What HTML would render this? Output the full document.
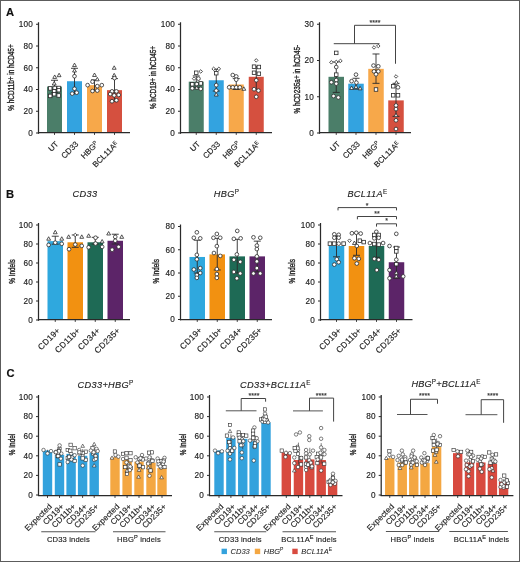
<!DOCTYPE html><html><head><meta charset="utf-8"><style>html,body{margin:0;padding:0;background:#fff;}svg{display:block;filter:blur(0.35px);}</style></head><body>
<svg width="520" height="562" viewBox="0 0 520 562" font-family='"Liberation Sans", sans-serif'>
<rect x="0" y="0" width="520" height="562" fill="#fff"/>
<text x="6.00" y="15.80" font-size="11.2" text-anchor="start" font-weight="bold" fill="#111" stroke="#111" stroke-width="0.15" >A</text>
<text x="6.00" y="197.80" font-size="11.2" text-anchor="start" font-weight="bold" fill="#111" stroke="#111" stroke-width="0.15" >B</text>
<text x="6.50" y="377.30" font-size="11.2" text-anchor="start" font-weight="bold" fill="#111" stroke="#111" stroke-width="0.15" >C</text>
<rect x="47.00" y="86.56" width="15.00" height="46.44" fill="#4b7e69"/>
<rect x="67.00" y="81.23" width="15.00" height="51.77" fill="#33a3e0"/>
<rect x="87.00" y="85.15" width="15.00" height="47.85" fill="#f7a84a"/>
<rect x="107.00" y="90.15" width="15.00" height="42.85" fill="#d5503f"/>
<line x1="54.50" y1="80.26" x2="54.50" y2="92.76" stroke="#2a2a2a" stroke-width="0.9"/>
<line x1="51.00" y1="80.26" x2="58.00" y2="80.26" stroke="#2a2a2a" stroke-width="0.9"/>
<line x1="51.00" y1="92.76" x2="58.00" y2="92.76" stroke="#2a2a2a" stroke-width="0.9"/>
<line x1="74.50" y1="68.29" x2="74.50" y2="93.85" stroke="#2a2a2a" stroke-width="0.9"/>
<line x1="71.00" y1="68.29" x2="78.00" y2="68.29" stroke="#2a2a2a" stroke-width="0.9"/>
<line x1="71.00" y1="93.85" x2="78.00" y2="93.85" stroke="#2a2a2a" stroke-width="0.9"/>
<line x1="94.50" y1="79.93" x2="94.50" y2="90.59" stroke="#2a2a2a" stroke-width="0.9"/>
<line x1="91.00" y1="79.93" x2="98.00" y2="79.93" stroke="#2a2a2a" stroke-width="0.9"/>
<line x1="91.00" y1="90.59" x2="98.00" y2="90.59" stroke="#2a2a2a" stroke-width="0.9"/>
<line x1="114.50" y1="78.62" x2="114.50" y2="101.46" stroke="#2a2a2a" stroke-width="0.9"/>
<line x1="111.00" y1="78.62" x2="118.00" y2="78.62" stroke="#2a2a2a" stroke-width="0.9"/>
<line x1="111.00" y1="101.46" x2="118.00" y2="101.46" stroke="#2a2a2a" stroke-width="0.9"/>
<polygon points="54.70,74.96 56.63,78.42 52.77,78.42" fill="#fff" stroke="#2a2a2a" stroke-width="0.8"/>
<polygon points="59.10,73.22 61.03,76.68 57.17,76.68" fill="#fff" stroke="#2a2a2a" stroke-width="0.8"/>
<polygon points="54.20,81.48 56.13,84.94 52.27,84.94" fill="#fff" stroke="#2a2a2a" stroke-width="0.8"/>
<rect x="48.44" y="86.66" width="3.52" height="3.52" fill="#fff" stroke="#2a2a2a" stroke-width="0.8"/>
<rect x="52.94" y="86.22" width="3.52" height="3.52" fill="#fff" stroke="#2a2a2a" stroke-width="0.8"/>
<rect x="56.94" y="86.22" width="3.52" height="3.52" fill="#fff" stroke="#2a2a2a" stroke-width="0.8"/>
<rect x="52.44" y="89.48" width="3.52" height="3.52" fill="#fff" stroke="#2a2a2a" stroke-width="0.8"/>
<rect x="56.94" y="88.40" width="3.52" height="3.52" fill="#fff" stroke="#2a2a2a" stroke-width="0.8"/>
<rect x="52.44" y="92.42" width="3.52" height="3.52" fill="#fff" stroke="#2a2a2a" stroke-width="0.8"/>
<rect x="56.94" y="93.72" width="3.52" height="3.52" fill="#fff" stroke="#2a2a2a" stroke-width="0.8"/>
<rect x="48.44" y="94.16" width="3.52" height="3.52" fill="#fff" stroke="#2a2a2a" stroke-width="0.8"/>
<polygon points="74.50,63.11 76.43,66.56 72.57,66.56" fill="#fff" stroke="#2a2a2a" stroke-width="0.8"/>
<polygon points="74.50,68.54 76.43,72.00 72.57,72.00" fill="#fff" stroke="#2a2a2a" stroke-width="0.8"/>
<circle cx="74.50" cy="76.23" r="1.85" fill="#fff" stroke="#2a2a2a" stroke-width="0.8"/>
<circle cx="74.50" cy="88.74" r="1.85" fill="#fff" stroke="#2a2a2a" stroke-width="0.8"/>
<circle cx="72.20" cy="93.63" r="1.85" fill="#fff" stroke="#2a2a2a" stroke-width="0.8"/>
<circle cx="76.70" cy="92.65" r="1.85" fill="#fff" stroke="#2a2a2a" stroke-width="0.8"/>
<polygon points="94.50,73.00 96.43,76.46 92.57,76.46" fill="#fff" stroke="#2a2a2a" stroke-width="0.8"/>
<polygon points="97.30,77.35 99.23,80.81 95.37,80.81" fill="#fff" stroke="#2a2a2a" stroke-width="0.8"/>
<circle cx="92.50" cy="81.67" r="1.85" fill="#fff" stroke="#2a2a2a" stroke-width="0.8"/>
<circle cx="87.60" cy="85.15" r="1.85" fill="#fff" stroke="#2a2a2a" stroke-width="0.8"/>
<circle cx="97.30" cy="86.13" r="1.85" fill="#fff" stroke="#2a2a2a" stroke-width="0.8"/>
<circle cx="101.80" cy="85.15" r="1.85" fill="#fff" stroke="#2a2a2a" stroke-width="0.8"/>
<circle cx="92.50" cy="91.02" r="1.85" fill="#fff" stroke="#2a2a2a" stroke-width="0.8"/>
<circle cx="97.30" cy="90.59" r="1.85" fill="#fff" stroke="#2a2a2a" stroke-width="0.8"/>
<polygon points="114.20,65.82 116.13,69.28 112.27,69.28" fill="#fff" stroke="#2a2a2a" stroke-width="0.8"/>
<polygon points="114.20,73.33 116.13,76.79 112.27,76.79" fill="#fff" stroke="#2a2a2a" stroke-width="0.8"/>
<circle cx="114.50" cy="78.08" r="1.85" fill="#fff" stroke="#2a2a2a" stroke-width="0.8"/>
<circle cx="112.00" cy="91.35" r="1.85" fill="#fff" stroke="#2a2a2a" stroke-width="0.8"/>
<circle cx="116.40" cy="91.35" r="1.85" fill="#fff" stroke="#2a2a2a" stroke-width="0.8"/>
<circle cx="110.20" cy="94.07" r="1.85" fill="#fff" stroke="#2a2a2a" stroke-width="0.8"/>
<circle cx="114.20" cy="95.37" r="1.85" fill="#fff" stroke="#2a2a2a" stroke-width="0.8"/>
<circle cx="118.70" cy="94.94" r="1.85" fill="#fff" stroke="#2a2a2a" stroke-width="0.8"/>
<circle cx="112.00" cy="101.25" r="1.85" fill="#fff" stroke="#2a2a2a" stroke-width="0.8"/>
<circle cx="116.40" cy="100.27" r="1.85" fill="#fff" stroke="#2a2a2a" stroke-width="0.8"/>
<line x1="38.50" y1="22.25" x2="38.50" y2="133.80" stroke="#2a2a2a" stroke-width="1.25"/>
<line x1="36.00" y1="133.00" x2="38.50" y2="133.00" stroke="#2a2a2a" stroke-width="1.0"/>
<text x="33.00" y="135.80" font-size="8.2" text-anchor="end" font-weight="normal" fill="#222" stroke="#222" stroke-width="0.15" letter-spacing="0.2">0</text>
<line x1="36.00" y1="111.25" x2="38.50" y2="111.25" stroke="#2a2a2a" stroke-width="1.0"/>
<text x="33.00" y="114.05" font-size="8.2" text-anchor="end" font-weight="normal" fill="#222" stroke="#222" stroke-width="0.15" letter-spacing="0.2">20</text>
<line x1="36.00" y1="89.50" x2="38.50" y2="89.50" stroke="#2a2a2a" stroke-width="1.0"/>
<text x="33.00" y="92.30" font-size="8.2" text-anchor="end" font-weight="normal" fill="#222" stroke="#222" stroke-width="0.15" letter-spacing="0.2">40</text>
<line x1="36.00" y1="67.75" x2="38.50" y2="67.75" stroke="#2a2a2a" stroke-width="1.0"/>
<text x="33.00" y="70.55" font-size="8.2" text-anchor="end" font-weight="normal" fill="#222" stroke="#222" stroke-width="0.15" letter-spacing="0.2">60</text>
<line x1="36.00" y1="46.00" x2="38.50" y2="46.00" stroke="#2a2a2a" stroke-width="1.0"/>
<text x="33.00" y="48.80" font-size="8.2" text-anchor="end" font-weight="normal" fill="#222" stroke="#222" stroke-width="0.15" letter-spacing="0.2">80</text>
<line x1="36.00" y1="24.25" x2="38.50" y2="24.25" stroke="#2a2a2a" stroke-width="1.0"/>
<text x="33.00" y="27.05" font-size="8.2" text-anchor="end" font-weight="normal" fill="#222" stroke="#222" stroke-width="0.15" letter-spacing="0.2">100</text>
<line x1="37.90" y1="132.50" x2="130.00" y2="132.50" stroke="#2a2a2a" stroke-width="1.25"/>
<line x1="54.50" y1="132.50" x2="54.50" y2="134.90" stroke="#2a2a2a" stroke-width="0.9"/>
<line x1="74.50" y1="132.50" x2="74.50" y2="134.90" stroke="#2a2a2a" stroke-width="0.9"/>
<line x1="94.50" y1="132.50" x2="94.50" y2="134.90" stroke="#2a2a2a" stroke-width="0.9"/>
<line x1="114.50" y1="132.50" x2="114.50" y2="134.90" stroke="#2a2a2a" stroke-width="0.9"/>
<text transform="translate(59.00,144.50) rotate(-45)" font-size="8" text-anchor="end" fill="#222" stroke="#222" stroke-width="0.15" letter-spacing="0">UT</text>
<text transform="translate(79.00,144.50) rotate(-45)" font-size="8" text-anchor="end" fill="#222" stroke="#222" stroke-width="0.15" letter-spacing="0">CD33</text>
<text transform="translate(99.00,144.50) rotate(-45)" font-size="8" text-anchor="end" fill="#222" stroke="#222" stroke-width="0.15" letter-spacing="0">HBG<tspan font-size="5.5" dy="-2.2">P</tspan></text>
<text transform="translate(119.00,144.50) rotate(-45)" font-size="8" text-anchor="end" fill="#222" stroke="#222" stroke-width="0.15" letter-spacing="0">BCL11A<tspan font-size="5.5" dy="-2.2">E</tspan></text>
<text transform="translate(11.50,77.50) rotate(-90) scale(0.78,1)" font-size="8.2" text-anchor="middle" fill="#222" stroke="#222" stroke-width="0.35" dominant-baseline="central">% hCD11b+ in hCD45+</text>
<rect x="188.75" y="81.67" width="15.00" height="51.33" fill="#4b7e69"/>
<rect x="208.75" y="80.26" width="15.00" height="52.74" fill="#33a3e0"/>
<rect x="228.75" y="84.50" width="15.00" height="48.50" fill="#f7a84a"/>
<rect x="248.75" y="76.78" width="15.00" height="56.22" fill="#d5503f"/>
<line x1="196.25" y1="75.91" x2="196.25" y2="87.33" stroke="#2a2a2a" stroke-width="0.9"/>
<line x1="192.75" y1="75.91" x2="199.75" y2="75.91" stroke="#2a2a2a" stroke-width="0.9"/>
<line x1="192.75" y1="87.33" x2="199.75" y2="87.33" stroke="#2a2a2a" stroke-width="0.9"/>
<line x1="216.25" y1="69.16" x2="216.25" y2="91.02" stroke="#2a2a2a" stroke-width="0.9"/>
<line x1="212.75" y1="69.16" x2="219.75" y2="69.16" stroke="#2a2a2a" stroke-width="0.9"/>
<line x1="212.75" y1="91.02" x2="219.75" y2="91.02" stroke="#2a2a2a" stroke-width="0.9"/>
<line x1="236.25" y1="78.62" x2="236.25" y2="89.50" stroke="#2a2a2a" stroke-width="0.9"/>
<line x1="232.75" y1="78.62" x2="239.75" y2="78.62" stroke="#2a2a2a" stroke-width="0.9"/>
<line x1="232.75" y1="89.50" x2="239.75" y2="89.50" stroke="#2a2a2a" stroke-width="0.9"/>
<line x1="256.25" y1="66.66" x2="256.25" y2="89.50" stroke="#2a2a2a" stroke-width="0.9"/>
<line x1="252.75" y1="66.66" x2="259.75" y2="66.66" stroke="#2a2a2a" stroke-width="0.9"/>
<line x1="252.75" y1="89.50" x2="259.75" y2="89.50" stroke="#2a2a2a" stroke-width="0.9"/>
<rect x="194.49" y="71.00" width="3.52" height="3.52" fill="#fff" stroke="#2a2a2a" stroke-width="0.8"/>
<polygon points="200.75,69.69 202.51,71.45 200.75,73.20 198.99,71.45" fill="#fff" stroke="#2a2a2a" stroke-width="0.8"/>
<polygon points="194.05,76.87 195.81,78.62 194.05,80.38 192.29,78.62" fill="#fff" stroke="#2a2a2a" stroke-width="0.8"/>
<circle cx="198.45" cy="78.62" r="1.85" fill="#fff" stroke="#2a2a2a" stroke-width="0.8"/>
<rect x="190.49" y="82.52" width="3.52" height="3.52" fill="#fff" stroke="#2a2a2a" stroke-width="0.8"/>
<circle cx="196.75" cy="84.06" r="1.85" fill="#fff" stroke="#2a2a2a" stroke-width="0.8"/>
<rect x="198.99" y="81.65" width="3.52" height="3.52" fill="#fff" stroke="#2a2a2a" stroke-width="0.8"/>
<circle cx="192.25" cy="88.30" r="1.85" fill="#fff" stroke="#2a2a2a" stroke-width="0.8"/>
<polygon points="196.75,85.83 198.68,89.29 194.82,89.29" fill="#fff" stroke="#2a2a2a" stroke-width="0.8"/>
<circle cx="200.75" cy="88.85" r="1.85" fill="#fff" stroke="#2a2a2a" stroke-width="0.8"/>
<polygon points="213.65,67.08 215.41,68.84 213.65,70.59 211.89,68.84" fill="#fff" stroke="#2a2a2a" stroke-width="0.8"/>
<polygon points="218.85,67.08 220.61,68.84 218.85,70.59 217.09,68.84" fill="#fff" stroke="#2a2a2a" stroke-width="0.8"/>
<rect x="214.49" y="71.43" width="3.52" height="3.52" fill="#fff" stroke="#2a2a2a" stroke-width="0.8"/>
<circle cx="216.25" cy="85.15" r="1.85" fill="#fff" stroke="#2a2a2a" stroke-width="0.8"/>
<circle cx="216.25" cy="90.59" r="1.85" fill="#fff" stroke="#2a2a2a" stroke-width="0.8"/>
<polygon points="216.25,92.58 218.18,96.04 214.32,96.04" fill="#fff" stroke="#2a2a2a" stroke-width="0.8"/>
<circle cx="232.75" cy="75.04" r="1.85" fill="#fff" stroke="#2a2a2a" stroke-width="0.8"/>
<circle cx="236.25" cy="76.45" r="1.85" fill="#fff" stroke="#2a2a2a" stroke-width="0.8"/>
<circle cx="236.25" cy="79.71" r="1.85" fill="#fff" stroke="#2a2a2a" stroke-width="0.8"/>
<circle cx="229.15" cy="87.33" r="1.85" fill="#fff" stroke="#2a2a2a" stroke-width="0.8"/>
<circle cx="232.75" cy="87.33" r="1.85" fill="#fff" stroke="#2a2a2a" stroke-width="0.8"/>
<circle cx="236.25" cy="87.33" r="1.85" fill="#fff" stroke="#2a2a2a" stroke-width="0.8"/>
<circle cx="239.85" cy="87.33" r="1.85" fill="#fff" stroke="#2a2a2a" stroke-width="0.8"/>
<polygon points="243.85,86.81 245.78,90.27 241.92,90.27" fill="#fff" stroke="#2a2a2a" stroke-width="0.8"/>
<polygon points="256.25,58.60 258.01,60.36 256.25,62.11 254.49,60.36" fill="#fff" stroke="#2a2a2a" stroke-width="0.8"/>
<rect x="252.29" y="64.91" width="3.52" height="3.52" fill="#fff" stroke="#2a2a2a" stroke-width="0.8"/>
<rect x="257.09" y="65.23" width="3.52" height="3.52" fill="#fff" stroke="#2a2a2a" stroke-width="0.8"/>
<rect x="252.29" y="71.00" width="3.52" height="3.52" fill="#fff" stroke="#2a2a2a" stroke-width="0.8"/>
<rect x="257.09" y="71.97" width="3.52" height="3.52" fill="#fff" stroke="#2a2a2a" stroke-width="0.8"/>
<circle cx="256.25" cy="80.26" r="1.85" fill="#fff" stroke="#2a2a2a" stroke-width="0.8"/>
<circle cx="254.05" cy="89.17" r="1.85" fill="#fff" stroke="#2a2a2a" stroke-width="0.8"/>
<circle cx="258.45" cy="90.59" r="1.85" fill="#fff" stroke="#2a2a2a" stroke-width="0.8"/>
<circle cx="256.25" cy="96.79" r="1.85" fill="#fff" stroke="#2a2a2a" stroke-width="0.8"/>
<line x1="180.50" y1="22.25" x2="180.50" y2="133.80" stroke="#2a2a2a" stroke-width="1.25"/>
<line x1="178.00" y1="133.00" x2="180.50" y2="133.00" stroke="#2a2a2a" stroke-width="1.0"/>
<text x="175.00" y="135.80" font-size="8.2" text-anchor="end" font-weight="normal" fill="#222" stroke="#222" stroke-width="0.15" letter-spacing="0.2">0</text>
<line x1="178.00" y1="111.25" x2="180.50" y2="111.25" stroke="#2a2a2a" stroke-width="1.0"/>
<text x="175.00" y="114.05" font-size="8.2" text-anchor="end" font-weight="normal" fill="#222" stroke="#222" stroke-width="0.15" letter-spacing="0.2">20</text>
<line x1="178.00" y1="89.50" x2="180.50" y2="89.50" stroke="#2a2a2a" stroke-width="1.0"/>
<text x="175.00" y="92.30" font-size="8.2" text-anchor="end" font-weight="normal" fill="#222" stroke="#222" stroke-width="0.15" letter-spacing="0.2">40</text>
<line x1="178.00" y1="67.75" x2="180.50" y2="67.75" stroke="#2a2a2a" stroke-width="1.0"/>
<text x="175.00" y="70.55" font-size="8.2" text-anchor="end" font-weight="normal" fill="#222" stroke="#222" stroke-width="0.15" letter-spacing="0.2">60</text>
<line x1="178.00" y1="46.00" x2="180.50" y2="46.00" stroke="#2a2a2a" stroke-width="1.0"/>
<text x="175.00" y="48.80" font-size="8.2" text-anchor="end" font-weight="normal" fill="#222" stroke="#222" stroke-width="0.15" letter-spacing="0.2">80</text>
<line x1="178.00" y1="24.25" x2="180.50" y2="24.25" stroke="#2a2a2a" stroke-width="1.0"/>
<text x="175.00" y="27.05" font-size="8.2" text-anchor="end" font-weight="normal" fill="#222" stroke="#222" stroke-width="0.15" letter-spacing="0.2">100</text>
<line x1="179.90" y1="132.50" x2="272.00" y2="132.50" stroke="#2a2a2a" stroke-width="1.25"/>
<line x1="196.25" y1="132.50" x2="196.25" y2="134.90" stroke="#2a2a2a" stroke-width="0.9"/>
<line x1="216.25" y1="132.50" x2="216.25" y2="134.90" stroke="#2a2a2a" stroke-width="0.9"/>
<line x1="236.25" y1="132.50" x2="236.25" y2="134.90" stroke="#2a2a2a" stroke-width="0.9"/>
<line x1="256.25" y1="132.50" x2="256.25" y2="134.90" stroke="#2a2a2a" stroke-width="0.9"/>
<text transform="translate(200.75,144.50) rotate(-45)" font-size="8" text-anchor="end" fill="#222" stroke="#222" stroke-width="0.15" letter-spacing="0">UT</text>
<text transform="translate(220.75,144.50) rotate(-45)" font-size="8" text-anchor="end" fill="#222" stroke="#222" stroke-width="0.15" letter-spacing="0">CD33</text>
<text transform="translate(240.75,144.50) rotate(-45)" font-size="8" text-anchor="end" fill="#222" stroke="#222" stroke-width="0.15" letter-spacing="0">HBG<tspan font-size="5.5" dy="-2.2">P</tspan></text>
<text transform="translate(260.75,144.50) rotate(-45)" font-size="8" text-anchor="end" fill="#222" stroke="#222" stroke-width="0.15" letter-spacing="0">BCL11A<tspan font-size="5.5" dy="-2.2">E</tspan></text>
<text transform="translate(153.00,77.50) rotate(-90) scale(0.78,1)" font-size="8.2" text-anchor="middle" fill="#222" stroke="#222" stroke-width="0.35" dominant-baseline="central">% hCD19+ in hCD45+</text>
<rect x="328.50" y="76.81" width="15.50" height="56.19" fill="#4b7e69"/>
<rect x="348.25" y="83.70" width="15.50" height="49.30" fill="#33a3e0"/>
<rect x="368.25" y="68.84" width="15.50" height="64.16" fill="#f7a84a"/>
<rect x="388.25" y="100.38" width="15.50" height="32.62" fill="#d5503f"/>
<line x1="336.25" y1="61.95" x2="336.25" y2="92.40" stroke="#2a2a2a" stroke-width="0.9"/>
<line x1="332.75" y1="61.95" x2="339.75" y2="61.95" stroke="#2a2a2a" stroke-width="0.9"/>
<line x1="332.75" y1="92.40" x2="339.75" y2="92.40" stroke="#2a2a2a" stroke-width="0.9"/>
<line x1="356.00" y1="78.26" x2="356.00" y2="89.14" stroke="#2a2a2a" stroke-width="0.9"/>
<line x1="352.50" y1="78.26" x2="359.50" y2="78.26" stroke="#2a2a2a" stroke-width="0.9"/>
<line x1="352.50" y1="89.14" x2="359.50" y2="89.14" stroke="#2a2a2a" stroke-width="0.9"/>
<line x1="376.00" y1="53.97" x2="376.00" y2="83.34" stroke="#2a2a2a" stroke-width="0.9"/>
<line x1="372.50" y1="53.97" x2="379.50" y2="53.97" stroke="#2a2a2a" stroke-width="0.9"/>
<line x1="372.50" y1="83.34" x2="379.50" y2="83.34" stroke="#2a2a2a" stroke-width="0.9"/>
<line x1="396.00" y1="83.34" x2="396.00" y2="116.33" stroke="#2a2a2a" stroke-width="0.9"/>
<line x1="392.50" y1="83.34" x2="399.50" y2="83.34" stroke="#2a2a2a" stroke-width="0.9"/>
<line x1="392.50" y1="116.33" x2="399.50" y2="116.33" stroke="#2a2a2a" stroke-width="0.9"/>
<rect x="334.49" y="51.13" width="3.52" height="3.52" fill="#fff" stroke="#2a2a2a" stroke-width="0.8"/>
<polygon points="331.35,60.55 333.11,62.31 331.35,64.07 329.59,62.31" fill="#fff" stroke="#2a2a2a" stroke-width="0.8"/>
<polygon points="336.25,60.19 338.01,61.95 336.25,63.71 334.49,61.95" fill="#fff" stroke="#2a2a2a" stroke-width="0.8"/>
<polygon points="340.45,59.11 342.21,60.86 340.45,62.62 338.69,60.86" fill="#fff" stroke="#2a2a2a" stroke-width="0.8"/>
<circle cx="336.25" cy="67.03" r="1.85" fill="#fff" stroke="#2a2a2a" stroke-width="0.8"/>
<rect x="334.49" y="72.88" width="3.52" height="3.52" fill="#fff" stroke="#2a2a2a" stroke-width="0.8"/>
<circle cx="336.25" cy="80.08" r="1.85" fill="#fff" stroke="#2a2a2a" stroke-width="0.8"/>
<circle cx="331.35" cy="82.25" r="1.85" fill="#fff" stroke="#2a2a2a" stroke-width="0.8"/>
<circle cx="336.25" cy="83.70" r="1.85" fill="#fff" stroke="#2a2a2a" stroke-width="0.8"/>
<circle cx="333.55" cy="96.03" r="1.85" fill="#fff" stroke="#2a2a2a" stroke-width="0.8"/>
<circle cx="338.35" cy="97.47" r="1.85" fill="#fff" stroke="#2a2a2a" stroke-width="0.8"/>
<circle cx="356.00" cy="74.64" r="1.85" fill="#fff" stroke="#2a2a2a" stroke-width="0.8"/>
<circle cx="351.60" cy="81.16" r="1.85" fill="#fff" stroke="#2a2a2a" stroke-width="0.8"/>
<circle cx="356.40" cy="82.61" r="1.85" fill="#fff" stroke="#2a2a2a" stroke-width="0.8"/>
<polygon points="351.60,86.02 353.53,89.47 349.67,89.47" fill="#fff" stroke="#2a2a2a" stroke-width="0.8"/>
<polygon points="356.00,84.93 357.93,88.39 354.07,88.39" fill="#fff" stroke="#2a2a2a" stroke-width="0.8"/>
<polygon points="360.10,86.38 362.03,89.84 358.17,89.84" fill="#fff" stroke="#2a2a2a" stroke-width="0.8"/>
<polygon points="374.00,45.69 375.76,47.45 374.00,49.21 372.24,47.45" fill="#fff" stroke="#2a2a2a" stroke-width="0.8"/>
<polygon points="378.30,44.24 380.06,46.00 378.30,47.76 376.54,46.00" fill="#fff" stroke="#2a2a2a" stroke-width="0.8"/>
<circle cx="373.50" cy="65.57" r="1.85" fill="#fff" stroke="#2a2a2a" stroke-width="0.8"/>
<circle cx="378.30" cy="66.30" r="1.85" fill="#fff" stroke="#2a2a2a" stroke-width="0.8"/>
<circle cx="374.00" cy="71.38" r="1.85" fill="#fff" stroke="#2a2a2a" stroke-width="0.8"/>
<circle cx="378.30" cy="71.38" r="1.85" fill="#fff" stroke="#2a2a2a" stroke-width="0.8"/>
<circle cx="376.00" cy="74.28" r="1.85" fill="#fff" stroke="#2a2a2a" stroke-width="0.8"/>
<rect x="374.24" y="87.74" width="3.52" height="3.52" fill="#fff" stroke="#2a2a2a" stroke-width="0.8"/>
<polygon points="396.00,74.69 397.76,76.45 396.00,78.21 394.24,76.45" fill="#fff" stroke="#2a2a2a" stroke-width="0.8"/>
<rect x="391.44" y="84.48" width="3.52" height="3.52" fill="#fff" stroke="#2a2a2a" stroke-width="0.8"/>
<polygon points="396.40,80.58 398.33,84.04 394.47,84.04" fill="#fff" stroke="#2a2a2a" stroke-width="0.8"/>
<circle cx="398.00" cy="87.33" r="1.85" fill="#fff" stroke="#2a2a2a" stroke-width="0.8"/>
<rect x="391.44" y="93.54" width="3.52" height="3.52" fill="#fff" stroke="#2a2a2a" stroke-width="0.8"/>
<rect x="396.24" y="93.54" width="3.52" height="3.52" fill="#fff" stroke="#2a2a2a" stroke-width="0.8"/>
<circle cx="396.00" cy="105.45" r="1.85" fill="#fff" stroke="#2a2a2a" stroke-width="0.8"/>
<circle cx="396.00" cy="109.08" r="1.85" fill="#fff" stroke="#2a2a2a" stroke-width="0.8"/>
<polygon points="396.00,113.20 397.93,116.66 394.07,116.66" fill="#fff" stroke="#2a2a2a" stroke-width="0.8"/>
<circle cx="396.00" cy="120.31" r="1.85" fill="#fff" stroke="#2a2a2a" stroke-width="0.8"/>
<circle cx="396.00" cy="129.01" r="1.85" fill="#fff" stroke="#2a2a2a" stroke-width="0.8"/>
<line x1="319.50" y1="22.25" x2="319.50" y2="133.80" stroke="#2a2a2a" stroke-width="1.25"/>
<line x1="317.00" y1="133.00" x2="319.50" y2="133.00" stroke="#2a2a2a" stroke-width="1.0"/>
<text x="314.00" y="135.80" font-size="8.2" text-anchor="end" font-weight="normal" fill="#222" stroke="#222" stroke-width="0.15" letter-spacing="0.2">0</text>
<line x1="317.00" y1="96.75" x2="319.50" y2="96.75" stroke="#2a2a2a" stroke-width="1.0"/>
<text x="314.00" y="99.55" font-size="8.2" text-anchor="end" font-weight="normal" fill="#222" stroke="#222" stroke-width="0.15" letter-spacing="0.2">10</text>
<line x1="317.00" y1="60.50" x2="319.50" y2="60.50" stroke="#2a2a2a" stroke-width="1.0"/>
<text x="314.00" y="63.30" font-size="8.2" text-anchor="end" font-weight="normal" fill="#222" stroke="#222" stroke-width="0.15" letter-spacing="0.2">20</text>
<line x1="317.00" y1="24.25" x2="319.50" y2="24.25" stroke="#2a2a2a" stroke-width="1.0"/>
<text x="314.00" y="27.05" font-size="8.2" text-anchor="end" font-weight="normal" fill="#222" stroke="#222" stroke-width="0.15" letter-spacing="0.2">30</text>
<line x1="318.90" y1="132.50" x2="411.00" y2="132.50" stroke="#2a2a2a" stroke-width="1.25"/>
<line x1="336.25" y1="132.50" x2="336.25" y2="134.90" stroke="#2a2a2a" stroke-width="0.9"/>
<line x1="356.00" y1="132.50" x2="356.00" y2="134.90" stroke="#2a2a2a" stroke-width="0.9"/>
<line x1="376.00" y1="132.50" x2="376.00" y2="134.90" stroke="#2a2a2a" stroke-width="0.9"/>
<line x1="396.00" y1="132.50" x2="396.00" y2="134.90" stroke="#2a2a2a" stroke-width="0.9"/>
<text transform="translate(340.75,144.50) rotate(-45)" font-size="8" text-anchor="end" fill="#222" stroke="#222" stroke-width="0.15" letter-spacing="0">UT</text>
<text transform="translate(360.50,144.50) rotate(-45)" font-size="8" text-anchor="end" fill="#222" stroke="#222" stroke-width="0.15" letter-spacing="0">CD33</text>
<text transform="translate(380.50,144.50) rotate(-45)" font-size="8" text-anchor="end" fill="#222" stroke="#222" stroke-width="0.15" letter-spacing="0">HBG<tspan font-size="5.5" dy="-2.2">P</tspan></text>
<text transform="translate(400.50,144.50) rotate(-45)" font-size="8" text-anchor="end" fill="#222" stroke="#222" stroke-width="0.15" letter-spacing="0">BCL11A<tspan font-size="5.5" dy="-2.2">E</tspan></text>
<text transform="translate(297.40,79.20) rotate(-90) scale(0.78,1)" font-size="8.2" text-anchor="middle" fill="#222" stroke="#222" stroke-width="0.35" dominant-baseline="central">% hCD235a+ in hCD45-</text>
<line x1="333.75" y1="43.70" x2="379.50" y2="43.70" stroke="#444" stroke-width="1.0"/>
<polyline points="354.5,43.7 354.5,25.3 395.5,25.3 395.5,63.75" fill="none" stroke="#444" stroke-width="1.0"/>
<text x="375.00" y="24.50" font-size="7" text-anchor="middle" font-weight="normal" fill="#3a3a3a" stroke="#3a3a3a" stroke-width="0.2" >****</text>
<rect x="47.50" y="241.15" width="15.50" height="78.85" fill="#2fa8de"/>
<rect x="67.50" y="242.29" width="15.50" height="77.71" fill="#f29111"/>
<rect x="87.50" y="242.29" width="15.50" height="77.71" fill="#1e6a55"/>
<rect x="107.50" y="240.77" width="15.50" height="79.23" fill="#5c2468"/>
<line x1="55.25" y1="236.21" x2="55.25" y2="244.19" stroke="#2a2a2a" stroke-width="0.9"/>
<line x1="51.75" y1="236.21" x2="58.75" y2="236.21" stroke="#2a2a2a" stroke-width="0.9"/>
<line x1="51.75" y1="244.19" x2="58.75" y2="244.19" stroke="#2a2a2a" stroke-width="0.9"/>
<line x1="75.25" y1="234.98" x2="75.25" y2="247.32" stroke="#2a2a2a" stroke-width="0.9"/>
<line x1="71.75" y1="234.98" x2="78.75" y2="234.98" stroke="#2a2a2a" stroke-width="0.9"/>
<line x1="71.75" y1="247.32" x2="78.75" y2="247.32" stroke="#2a2a2a" stroke-width="0.9"/>
<line x1="95.25" y1="237.35" x2="95.25" y2="244.00" stroke="#2a2a2a" stroke-width="0.9"/>
<line x1="91.75" y1="237.35" x2="98.75" y2="237.35" stroke="#2a2a2a" stroke-width="0.9"/>
<line x1="91.75" y1="244.00" x2="98.75" y2="244.00" stroke="#2a2a2a" stroke-width="0.9"/>
<line x1="115.25" y1="234.22" x2="115.25" y2="244.00" stroke="#2a2a2a" stroke-width="0.9"/>
<line x1="111.75" y1="234.22" x2="118.75" y2="234.22" stroke="#2a2a2a" stroke-width="0.9"/>
<line x1="111.75" y1="244.00" x2="118.75" y2="244.00" stroke="#2a2a2a" stroke-width="0.9"/>
<polygon points="55.25,230.28 57.18,233.74 53.32,233.74" fill="#fff" stroke="#2a2a2a" stroke-width="0.8"/>
<polygon points="48.65,236.74 50.58,240.20 46.72,240.20" fill="#fff" stroke="#2a2a2a" stroke-width="0.8"/>
<polygon points="61.75,236.74 63.68,240.20 59.82,240.20" fill="#fff" stroke="#2a2a2a" stroke-width="0.8"/>
<circle cx="48.65" cy="244.95" r="1.85" fill="#fff" stroke="#2a2a2a" stroke-width="0.8"/>
<circle cx="55.25" cy="242.67" r="1.85" fill="#fff" stroke="#2a2a2a" stroke-width="0.8"/>
<circle cx="61.75" cy="243.81" r="1.85" fill="#fff" stroke="#2a2a2a" stroke-width="0.8"/>
<polygon points="68.65,234.84 70.58,238.30 66.72,238.30" fill="#fff" stroke="#2a2a2a" stroke-width="0.8"/>
<polygon points="75.25,233.22 77.01,234.98 75.25,236.73 73.49,234.98" fill="#fff" stroke="#2a2a2a" stroke-width="0.8"/>
<polygon points="81.75,234.84 83.68,238.30 79.82,238.30" fill="#fff" stroke="#2a2a2a" stroke-width="0.8"/>
<circle cx="75.25" cy="244.57" r="1.85" fill="#fff" stroke="#2a2a2a" stroke-width="0.8"/>
<circle cx="69.05" cy="249.23" r="1.85" fill="#fff" stroke="#2a2a2a" stroke-width="0.8"/>
<circle cx="81.75" cy="245.90" r="1.85" fill="#fff" stroke="#2a2a2a" stroke-width="0.8"/>
<polygon points="88.65,233.80 90.58,237.25 86.72,237.25" fill="#fff" stroke="#2a2a2a" stroke-width="0.8"/>
<circle cx="95.55" cy="237.73" r="1.85" fill="#fff" stroke="#2a2a2a" stroke-width="0.8"/>
<circle cx="95.55" cy="243.53" r="1.85" fill="#fff" stroke="#2a2a2a" stroke-width="0.8"/>
<polygon points="102.15,239.50 104.08,242.95 100.22,242.95" fill="#fff" stroke="#2a2a2a" stroke-width="0.8"/>
<circle cx="88.65" cy="247.32" r="1.85" fill="#fff" stroke="#2a2a2a" stroke-width="0.8"/>
<circle cx="102.15" cy="246.85" r="1.85" fill="#fff" stroke="#2a2a2a" stroke-width="0.8"/>
<polygon points="108.65,231.52 110.58,234.97 106.72,234.97" fill="#fff" stroke="#2a2a2a" stroke-width="0.8"/>
<circle cx="115.25" cy="236.88" r="1.85" fill="#fff" stroke="#2a2a2a" stroke-width="0.8"/>
<polygon points="121.75,234.84 123.68,238.30 119.82,238.30" fill="#fff" stroke="#2a2a2a" stroke-width="0.8"/>
<circle cx="115.25" cy="240.77" r="1.85" fill="#fff" stroke="#2a2a2a" stroke-width="0.8"/>
<circle cx="118.65" cy="246.85" r="1.85" fill="#fff" stroke="#2a2a2a" stroke-width="0.8"/>
<circle cx="112.15" cy="249.70" r="1.85" fill="#fff" stroke="#2a2a2a" stroke-width="0.8"/>
<line x1="38.50" y1="223.00" x2="38.50" y2="320.80" stroke="#2a2a2a" stroke-width="1.25"/>
<line x1="36.00" y1="320.00" x2="38.50" y2="320.00" stroke="#2a2a2a" stroke-width="1.0"/>
<text x="33.00" y="322.80" font-size="8.2" text-anchor="end" font-weight="normal" fill="#222" stroke="#222" stroke-width="0.15" letter-spacing="0.2">0</text>
<line x1="36.00" y1="301.00" x2="38.50" y2="301.00" stroke="#2a2a2a" stroke-width="1.0"/>
<text x="33.00" y="303.80" font-size="8.2" text-anchor="end" font-weight="normal" fill="#222" stroke="#222" stroke-width="0.15" letter-spacing="0.2">20</text>
<line x1="36.00" y1="282.00" x2="38.50" y2="282.00" stroke="#2a2a2a" stroke-width="1.0"/>
<text x="33.00" y="284.80" font-size="8.2" text-anchor="end" font-weight="normal" fill="#222" stroke="#222" stroke-width="0.15" letter-spacing="0.2">40</text>
<line x1="36.00" y1="263.00" x2="38.50" y2="263.00" stroke="#2a2a2a" stroke-width="1.0"/>
<text x="33.00" y="265.80" font-size="8.2" text-anchor="end" font-weight="normal" fill="#222" stroke="#222" stroke-width="0.15" letter-spacing="0.2">60</text>
<line x1="36.00" y1="244.00" x2="38.50" y2="244.00" stroke="#2a2a2a" stroke-width="1.0"/>
<text x="33.00" y="246.80" font-size="8.2" text-anchor="end" font-weight="normal" fill="#222" stroke="#222" stroke-width="0.15" letter-spacing="0.2">80</text>
<line x1="36.00" y1="225.00" x2="38.50" y2="225.00" stroke="#2a2a2a" stroke-width="1.0"/>
<text x="33.00" y="227.80" font-size="8.2" text-anchor="end" font-weight="normal" fill="#222" stroke="#222" stroke-width="0.15" letter-spacing="0.2">100</text>
<line x1="37.90" y1="319.50" x2="130.00" y2="319.50" stroke="#2a2a2a" stroke-width="1.25"/>
<line x1="55.25" y1="319.50" x2="55.25" y2="321.90" stroke="#2a2a2a" stroke-width="0.9"/>
<line x1="75.25" y1="319.50" x2="75.25" y2="321.90" stroke="#2a2a2a" stroke-width="0.9"/>
<line x1="95.25" y1="319.50" x2="95.25" y2="321.90" stroke="#2a2a2a" stroke-width="0.9"/>
<line x1="115.25" y1="319.50" x2="115.25" y2="321.90" stroke="#2a2a2a" stroke-width="0.9"/>
<text transform="translate(60.75,331.00) rotate(-45)" font-size="8.4" text-anchor="end" fill="#222" stroke="#222" stroke-width="0.15" letter-spacing="0.25">CD19+</text>
<text transform="translate(80.75,331.00) rotate(-45)" font-size="8.4" text-anchor="end" fill="#222" stroke="#222" stroke-width="0.15" letter-spacing="0.25">CD11b+</text>
<text transform="translate(100.75,331.00) rotate(-45)" font-size="8.4" text-anchor="end" fill="#222" stroke="#222" stroke-width="0.15" letter-spacing="0.25">CD34+</text>
<text transform="translate(120.75,331.00) rotate(-45)" font-size="8.4" text-anchor="end" fill="#222" stroke="#222" stroke-width="0.15" letter-spacing="0.25">CD235+</text>
<text transform="translate(12.00,271.50) rotate(-90) scale(0.78,1)" font-size="8.2" text-anchor="middle" fill="#222" stroke="#222" stroke-width="0.35" dominant-baseline="central">% Indels</text>
<text x="85.00" y="196.50" font-size="9.2" text-anchor="middle" font-weight="normal" font-style="italic" fill="#222" stroke="#222" stroke-width="0.12" letter-spacing="0.35">CD33</text>
<rect x="189.50" y="256.96" width="15.50" height="62.54" fill="#2fa8de"/>
<rect x="209.50" y="254.40" width="15.50" height="65.10" fill="#f29111"/>
<rect x="229.50" y="256.38" width="15.50" height="63.12" fill="#1e6a55"/>
<rect x="249.50" y="256.38" width="15.50" height="63.12" fill="#5c2468"/>
<line x1="197.25" y1="240.22" x2="197.25" y2="273.00" stroke="#2a2a2a" stroke-width="0.9"/>
<line x1="193.75" y1="240.22" x2="200.75" y2="240.22" stroke="#2a2a2a" stroke-width="0.9"/>
<line x1="193.75" y1="273.00" x2="200.75" y2="273.00" stroke="#2a2a2a" stroke-width="0.9"/>
<line x1="217.25" y1="238.36" x2="217.25" y2="269.98" stroke="#2a2a2a" stroke-width="0.9"/>
<line x1="213.75" y1="238.36" x2="220.75" y2="238.36" stroke="#2a2a2a" stroke-width="0.9"/>
<line x1="213.75" y1="269.98" x2="220.75" y2="269.98" stroke="#2a2a2a" stroke-width="0.9"/>
<line x1="237.25" y1="239.29" x2="237.25" y2="273.00" stroke="#2a2a2a" stroke-width="0.9"/>
<line x1="233.75" y1="239.29" x2="240.75" y2="239.29" stroke="#2a2a2a" stroke-width="0.9"/>
<line x1="233.75" y1="273.00" x2="240.75" y2="273.00" stroke="#2a2a2a" stroke-width="0.9"/>
<line x1="257.25" y1="241.15" x2="257.25" y2="271.84" stroke="#2a2a2a" stroke-width="0.9"/>
<line x1="253.75" y1="241.15" x2="260.75" y2="241.15" stroke="#2a2a2a" stroke-width="0.9"/>
<line x1="253.75" y1="271.84" x2="260.75" y2="271.84" stroke="#2a2a2a" stroke-width="0.9"/>
<circle cx="196.85" cy="232.31" r="1.85" fill="#fff" stroke="#2a2a2a" stroke-width="0.8"/>
<circle cx="193.85" cy="237.78" r="1.85" fill="#fff" stroke="#2a2a2a" stroke-width="0.8"/>
<circle cx="200.25" cy="238.36" r="1.85" fill="#fff" stroke="#2a2a2a" stroke-width="0.8"/>
<circle cx="196.85" cy="254.87" r="1.85" fill="#fff" stroke="#2a2a2a" stroke-width="0.8"/>
<circle cx="196.85" cy="259.28" r="1.85" fill="#fff" stroke="#2a2a2a" stroke-width="0.8"/>
<circle cx="193.85" cy="269.51" r="1.85" fill="#fff" stroke="#2a2a2a" stroke-width="0.8"/>
<circle cx="200.25" cy="268.12" r="1.85" fill="#fff" stroke="#2a2a2a" stroke-width="0.8"/>
<circle cx="200.25" cy="273.00" r="1.85" fill="#fff" stroke="#2a2a2a" stroke-width="0.8"/>
<circle cx="196.85" cy="274.98" r="1.85" fill="#fff" stroke="#2a2a2a" stroke-width="0.8"/>
<circle cx="196.85" cy="277.88" r="1.85" fill="#fff" stroke="#2a2a2a" stroke-width="0.8"/>
<circle cx="216.85" cy="233.94" r="1.85" fill="#fff" stroke="#2a2a2a" stroke-width="0.8"/>
<circle cx="213.45" cy="237.78" r="1.85" fill="#fff" stroke="#2a2a2a" stroke-width="0.8"/>
<circle cx="220.25" cy="237.78" r="1.85" fill="#fff" stroke="#2a2a2a" stroke-width="0.8"/>
<circle cx="216.85" cy="246.15" r="1.85" fill="#fff" stroke="#2a2a2a" stroke-width="0.8"/>
<circle cx="213.95" cy="253.00" r="1.85" fill="#fff" stroke="#2a2a2a" stroke-width="0.8"/>
<circle cx="220.25" cy="255.91" r="1.85" fill="#fff" stroke="#2a2a2a" stroke-width="0.8"/>
<circle cx="216.85" cy="269.05" r="1.85" fill="#fff" stroke="#2a2a2a" stroke-width="0.8"/>
<circle cx="216.85" cy="274.05" r="1.85" fill="#fff" stroke="#2a2a2a" stroke-width="0.8"/>
<circle cx="216.85" cy="277.88" r="1.85" fill="#fff" stroke="#2a2a2a" stroke-width="0.8"/>
<circle cx="237.25" cy="230.92" r="1.85" fill="#fff" stroke="#2a2a2a" stroke-width="0.8"/>
<circle cx="233.85" cy="238.82" r="1.85" fill="#fff" stroke="#2a2a2a" stroke-width="0.8"/>
<circle cx="240.65" cy="238.36" r="1.85" fill="#fff" stroke="#2a2a2a" stroke-width="0.8"/>
<circle cx="236.85" cy="254.40" r="1.85" fill="#fff" stroke="#2a2a2a" stroke-width="0.8"/>
<circle cx="233.85" cy="259.75" r="1.85" fill="#fff" stroke="#2a2a2a" stroke-width="0.8"/>
<circle cx="240.25" cy="261.84" r="1.85" fill="#fff" stroke="#2a2a2a" stroke-width="0.8"/>
<circle cx="233.85" cy="271.95" r="1.85" fill="#fff" stroke="#2a2a2a" stroke-width="0.8"/>
<circle cx="240.25" cy="273.46" r="1.85" fill="#fff" stroke="#2a2a2a" stroke-width="0.8"/>
<circle cx="236.85" cy="278.35" r="1.85" fill="#fff" stroke="#2a2a2a" stroke-width="0.8"/>
<circle cx="253.45" cy="237.31" r="1.85" fill="#fff" stroke="#2a2a2a" stroke-width="0.8"/>
<circle cx="260.25" cy="237.78" r="1.85" fill="#fff" stroke="#2a2a2a" stroke-width="0.8"/>
<circle cx="256.85" cy="245.56" r="1.85" fill="#fff" stroke="#2a2a2a" stroke-width="0.8"/>
<circle cx="256.85" cy="249.05" r="1.85" fill="#fff" stroke="#2a2a2a" stroke-width="0.8"/>
<circle cx="256.85" cy="256.38" r="1.85" fill="#fff" stroke="#2a2a2a" stroke-width="0.8"/>
<circle cx="256.85" cy="261.38" r="1.85" fill="#fff" stroke="#2a2a2a" stroke-width="0.8"/>
<circle cx="256.85" cy="268.12" r="1.85" fill="#fff" stroke="#2a2a2a" stroke-width="0.8"/>
<circle cx="253.45" cy="273.46" r="1.85" fill="#fff" stroke="#2a2a2a" stroke-width="0.8"/>
<circle cx="260.25" cy="273.46" r="1.85" fill="#fff" stroke="#2a2a2a" stroke-width="0.8"/>
<line x1="180.50" y1="224.50" x2="180.50" y2="320.30" stroke="#2a2a2a" stroke-width="1.25"/>
<line x1="178.00" y1="319.50" x2="180.50" y2="319.50" stroke="#2a2a2a" stroke-width="1.0"/>
<text x="175.00" y="322.30" font-size="8.2" text-anchor="end" font-weight="normal" fill="#222" stroke="#222" stroke-width="0.15" letter-spacing="0.2">0</text>
<line x1="178.00" y1="296.25" x2="180.50" y2="296.25" stroke="#2a2a2a" stroke-width="1.0"/>
<text x="175.00" y="299.05" font-size="8.2" text-anchor="end" font-weight="normal" fill="#222" stroke="#222" stroke-width="0.15" letter-spacing="0.2">20</text>
<line x1="178.00" y1="273.00" x2="180.50" y2="273.00" stroke="#2a2a2a" stroke-width="1.0"/>
<text x="175.00" y="275.80" font-size="8.2" text-anchor="end" font-weight="normal" fill="#222" stroke="#222" stroke-width="0.15" letter-spacing="0.2">40</text>
<line x1="178.00" y1="249.75" x2="180.50" y2="249.75" stroke="#2a2a2a" stroke-width="1.0"/>
<text x="175.00" y="252.55" font-size="8.2" text-anchor="end" font-weight="normal" fill="#222" stroke="#222" stroke-width="0.15" letter-spacing="0.2">60</text>
<line x1="178.00" y1="226.50" x2="180.50" y2="226.50" stroke="#2a2a2a" stroke-width="1.0"/>
<text x="175.00" y="229.30" font-size="8.2" text-anchor="end" font-weight="normal" fill="#222" stroke="#222" stroke-width="0.15" letter-spacing="0.2">80</text>
<line x1="179.90" y1="319.50" x2="272.00" y2="319.50" stroke="#2a2a2a" stroke-width="1.25"/>
<line x1="197.25" y1="319.50" x2="197.25" y2="321.90" stroke="#2a2a2a" stroke-width="0.9"/>
<line x1="217.25" y1="319.50" x2="217.25" y2="321.90" stroke="#2a2a2a" stroke-width="0.9"/>
<line x1="237.25" y1="319.50" x2="237.25" y2="321.90" stroke="#2a2a2a" stroke-width="0.9"/>
<line x1="257.25" y1="319.50" x2="257.25" y2="321.90" stroke="#2a2a2a" stroke-width="0.9"/>
<text transform="translate(202.75,330.50) rotate(-45)" font-size="8.4" text-anchor="end" fill="#222" stroke="#222" stroke-width="0.15" letter-spacing="0.25">CD19+</text>
<text transform="translate(222.75,330.50) rotate(-45)" font-size="8.4" text-anchor="end" fill="#222" stroke="#222" stroke-width="0.15" letter-spacing="0.25">CD11b+</text>
<text transform="translate(242.75,330.50) rotate(-45)" font-size="8.4" text-anchor="end" fill="#222" stroke="#222" stroke-width="0.15" letter-spacing="0.25">CD34+</text>
<text transform="translate(262.75,330.50) rotate(-45)" font-size="8.4" text-anchor="end" fill="#222" stroke="#222" stroke-width="0.15" letter-spacing="0.25">CD235+</text>
<text transform="translate(156.50,271.30) rotate(-90) scale(0.78,1)" font-size="8.2" text-anchor="middle" fill="#222" stroke="#222" stroke-width="0.35" dominant-baseline="central">% Indels</text>
<text x="226.50" y="196.50" font-size="9.2" text-anchor="middle" font-weight="normal" fill="#222" stroke="#222" stroke-width="0.12" letter-spacing="0.35"><tspan font-style="italic">HBG</tspan><tspan font-size="6.3" dy="-2.8">P</tspan></text>
<rect x="328.75" y="246.00" width="15.50" height="74.00" fill="#2fa8de"/>
<rect x="348.75" y="246.00" width="15.50" height="74.00" fill="#f29111"/>
<rect x="368.75" y="246.00" width="15.50" height="74.00" fill="#1e6a55"/>
<rect x="388.75" y="262.24" width="15.50" height="57.76" fill="#5c2468"/>
<line x1="336.50" y1="235.83" x2="336.50" y2="256.82" stroke="#2a2a2a" stroke-width="0.9"/>
<line x1="333.00" y1="235.83" x2="340.00" y2="235.83" stroke="#2a2a2a" stroke-width="0.9"/>
<line x1="333.00" y1="256.82" x2="340.00" y2="256.82" stroke="#2a2a2a" stroke-width="0.9"/>
<line x1="356.50" y1="233.26" x2="356.50" y2="255.31" stroke="#2a2a2a" stroke-width="0.9"/>
<line x1="353.00" y1="233.26" x2="360.00" y2="233.26" stroke="#2a2a2a" stroke-width="0.9"/>
<line x1="353.00" y1="255.31" x2="360.00" y2="255.31" stroke="#2a2a2a" stroke-width="0.9"/>
<line x1="376.50" y1="234.78" x2="376.50" y2="257.30" stroke="#2a2a2a" stroke-width="0.9"/>
<line x1="373.00" y1="234.78" x2="380.00" y2="234.78" stroke="#2a2a2a" stroke-width="0.9"/>
<line x1="373.00" y1="257.30" x2="380.00" y2="257.30" stroke="#2a2a2a" stroke-width="0.9"/>
<line x1="396.50" y1="247.04" x2="396.50" y2="278.20" stroke="#2a2a2a" stroke-width="0.9"/>
<line x1="393.00" y1="247.04" x2="400.00" y2="247.04" stroke="#2a2a2a" stroke-width="0.9"/>
<line x1="393.00" y1="278.20" x2="400.00" y2="278.20" stroke="#2a2a2a" stroke-width="0.9"/>
<circle cx="334.30" cy="234.31" r="1.85" fill="#fff" stroke="#2a2a2a" stroke-width="0.8"/>
<circle cx="338.70" cy="234.78" r="1.85" fill="#fff" stroke="#2a2a2a" stroke-width="0.8"/>
<circle cx="334.30" cy="237.73" r="1.85" fill="#fff" stroke="#2a2a2a" stroke-width="0.8"/>
<circle cx="338.70" cy="237.73" r="1.85" fill="#fff" stroke="#2a2a2a" stroke-width="0.8"/>
<rect x="328.14" y="241.86" width="3.52" height="3.52" fill="#fff" stroke="#2a2a2a" stroke-width="0.8"/>
<rect x="332.54" y="241.86" width="3.52" height="3.52" fill="#fff" stroke="#2a2a2a" stroke-width="0.8"/>
<circle cx="338.70" cy="243.62" r="1.85" fill="#fff" stroke="#2a2a2a" stroke-width="0.8"/>
<rect x="341.84" y="241.86" width="3.52" height="3.52" fill="#fff" stroke="#2a2a2a" stroke-width="0.8"/>
<circle cx="336.80" cy="259.20" r="1.85" fill="#fff" stroke="#2a2a2a" stroke-width="0.8"/>
<circle cx="338.70" cy="262.24" r="1.85" fill="#fff" stroke="#2a2a2a" stroke-width="0.8"/>
<circle cx="334.30" cy="264.62" r="1.85" fill="#fff" stroke="#2a2a2a" stroke-width="0.8"/>
<circle cx="351.90" cy="233.26" r="1.85" fill="#fff" stroke="#2a2a2a" stroke-width="0.8"/>
<circle cx="356.30" cy="232.79" r="1.85" fill="#fff" stroke="#2a2a2a" stroke-width="0.8"/>
<circle cx="360.70" cy="233.55" r="1.85" fill="#fff" stroke="#2a2a2a" stroke-width="0.8"/>
<polygon points="349.50,238.92 351.26,240.68 349.50,242.43 347.74,240.68" fill="#fff" stroke="#2a2a2a" stroke-width="0.8"/>
<polygon points="354.40,241.02 356.33,244.47 352.47,244.47" fill="#fff" stroke="#2a2a2a" stroke-width="0.8"/>
<rect x="358.04" y="238.92" width="3.52" height="3.52" fill="#fff" stroke="#2a2a2a" stroke-width="0.8"/>
<rect x="361.94" y="240.34" width="3.52" height="3.52" fill="#fff" stroke="#2a2a2a" stroke-width="0.8"/>
<circle cx="356.80" cy="246.00" r="1.85" fill="#fff" stroke="#2a2a2a" stroke-width="0.8"/>
<circle cx="354.40" cy="258.25" r="1.85" fill="#fff" stroke="#2a2a2a" stroke-width="0.8"/>
<circle cx="358.80" cy="258.82" r="1.85" fill="#fff" stroke="#2a2a2a" stroke-width="0.8"/>
<circle cx="356.80" cy="263.57" r="1.85" fill="#fff" stroke="#2a2a2a" stroke-width="0.8"/>
<circle cx="376.30" cy="231.84" r="1.85" fill="#fff" stroke="#2a2a2a" stroke-width="0.8"/>
<rect x="372.54" y="233.22" width="3.52" height="3.52" fill="#fff" stroke="#2a2a2a" stroke-width="0.8"/>
<rect x="376.94" y="233.22" width="3.52" height="3.52" fill="#fff" stroke="#2a2a2a" stroke-width="0.8"/>
<circle cx="374.30" cy="238.30" r="1.85" fill="#fff" stroke="#2a2a2a" stroke-width="0.8"/>
<circle cx="378.70" cy="237.82" r="1.85" fill="#fff" stroke="#2a2a2a" stroke-width="0.8"/>
<circle cx="369.90" cy="243.05" r="1.85" fill="#fff" stroke="#2a2a2a" stroke-width="0.8"/>
<rect x="372.54" y="242.24" width="3.52" height="3.52" fill="#fff" stroke="#2a2a2a" stroke-width="0.8"/>
<rect x="376.94" y="242.81" width="3.52" height="3.52" fill="#fff" stroke="#2a2a2a" stroke-width="0.8"/>
<circle cx="383.10" cy="243.05" r="1.85" fill="#fff" stroke="#2a2a2a" stroke-width="0.8"/>
<circle cx="374.30" cy="258.82" r="1.85" fill="#fff" stroke="#2a2a2a" stroke-width="0.8"/>
<circle cx="378.70" cy="259.77" r="1.85" fill="#fff" stroke="#2a2a2a" stroke-width="0.8"/>
<circle cx="376.80" cy="270.03" r="1.85" fill="#fff" stroke="#2a2a2a" stroke-width="0.8"/>
<circle cx="396.30" cy="233.84" r="1.85" fill="#fff" stroke="#2a2a2a" stroke-width="0.8"/>
<circle cx="389.50" cy="246.00" r="1.85" fill="#fff" stroke="#2a2a2a" stroke-width="0.8"/>
<rect x="394.54" y="246.23" width="3.52" height="3.52" fill="#fff" stroke="#2a2a2a" stroke-width="0.8"/>
<rect x="394.54" y="249.65" width="3.52" height="3.52" fill="#fff" stroke="#2a2a2a" stroke-width="0.8"/>
<circle cx="396.30" cy="259.68" r="1.85" fill="#fff" stroke="#2a2a2a" stroke-width="0.8"/>
<rect x="394.54" y="262.38" width="3.52" height="3.52" fill="#fff" stroke="#2a2a2a" stroke-width="0.8"/>
<circle cx="389.50" cy="270.03" r="1.85" fill="#fff" stroke="#2a2a2a" stroke-width="0.8"/>
<polygon points="396.30,270.94 398.23,274.40 394.37,274.40" fill="#fff" stroke="#2a2a2a" stroke-width="0.8"/>
<polygon points="396.30,274.36 398.23,277.82 394.37,277.82" fill="#fff" stroke="#2a2a2a" stroke-width="0.8"/>
<circle cx="403.20" cy="276.39" r="1.85" fill="#fff" stroke="#2a2a2a" stroke-width="0.8"/>
<circle cx="389.50" cy="278.30" r="1.85" fill="#fff" stroke="#2a2a2a" stroke-width="0.8"/>
<line x1="320.50" y1="223.00" x2="320.50" y2="320.80" stroke="#2a2a2a" stroke-width="1.25"/>
<line x1="318.00" y1="320.00" x2="320.50" y2="320.00" stroke="#2a2a2a" stroke-width="1.0"/>
<text x="315.00" y="322.80" font-size="8.2" text-anchor="end" font-weight="normal" fill="#222" stroke="#222" stroke-width="0.15" letter-spacing="0.2">0</text>
<line x1="318.00" y1="301.00" x2="320.50" y2="301.00" stroke="#2a2a2a" stroke-width="1.0"/>
<text x="315.00" y="303.80" font-size="8.2" text-anchor="end" font-weight="normal" fill="#222" stroke="#222" stroke-width="0.15" letter-spacing="0.2">20</text>
<line x1="318.00" y1="282.00" x2="320.50" y2="282.00" stroke="#2a2a2a" stroke-width="1.0"/>
<text x="315.00" y="284.80" font-size="8.2" text-anchor="end" font-weight="normal" fill="#222" stroke="#222" stroke-width="0.15" letter-spacing="0.2">40</text>
<line x1="318.00" y1="263.00" x2="320.50" y2="263.00" stroke="#2a2a2a" stroke-width="1.0"/>
<text x="315.00" y="265.80" font-size="8.2" text-anchor="end" font-weight="normal" fill="#222" stroke="#222" stroke-width="0.15" letter-spacing="0.2">60</text>
<line x1="318.00" y1="244.00" x2="320.50" y2="244.00" stroke="#2a2a2a" stroke-width="1.0"/>
<text x="315.00" y="246.80" font-size="8.2" text-anchor="end" font-weight="normal" fill="#222" stroke="#222" stroke-width="0.15" letter-spacing="0.2">80</text>
<line x1="318.00" y1="225.00" x2="320.50" y2="225.00" stroke="#2a2a2a" stroke-width="1.0"/>
<text x="315.00" y="227.80" font-size="8.2" text-anchor="end" font-weight="normal" fill="#222" stroke="#222" stroke-width="0.15" letter-spacing="0.2">100</text>
<line x1="319.90" y1="319.50" x2="412.50" y2="319.50" stroke="#2a2a2a" stroke-width="1.25"/>
<line x1="336.50" y1="319.50" x2="336.50" y2="321.90" stroke="#2a2a2a" stroke-width="0.9"/>
<line x1="356.50" y1="319.50" x2="356.50" y2="321.90" stroke="#2a2a2a" stroke-width="0.9"/>
<line x1="376.50" y1="319.50" x2="376.50" y2="321.90" stroke="#2a2a2a" stroke-width="0.9"/>
<line x1="396.50" y1="319.50" x2="396.50" y2="321.90" stroke="#2a2a2a" stroke-width="0.9"/>
<text transform="translate(342.00,331.00) rotate(-45)" font-size="8.4" text-anchor="end" fill="#222" stroke="#222" stroke-width="0.15" letter-spacing="0.25">CD19+</text>
<text transform="translate(362.00,331.00) rotate(-45)" font-size="8.4" text-anchor="end" fill="#222" stroke="#222" stroke-width="0.15" letter-spacing="0.25">CD11b+</text>
<text transform="translate(382.00,331.00) rotate(-45)" font-size="8.4" text-anchor="end" fill="#222" stroke="#222" stroke-width="0.15" letter-spacing="0.25">CD34+</text>
<text transform="translate(402.00,331.00) rotate(-45)" font-size="8.4" text-anchor="end" fill="#222" stroke="#222" stroke-width="0.15" letter-spacing="0.25">CD235+</text>
<text transform="translate(292.70,271.30) rotate(-90) scale(0.78,1)" font-size="8.2" text-anchor="middle" fill="#222" stroke="#222" stroke-width="0.35" dominant-baseline="central">% Indels</text>
<text x="367.50" y="196.50" font-size="9.2" text-anchor="middle" font-weight="normal" fill="#222" stroke="#222" stroke-width="0.12" letter-spacing="0.35"><tspan font-style="italic">BCL11A</tspan><tspan font-size="6.3" dy="-2.8">E</tspan></text>
<polyline points="338,210.4 338,207.6 396.5,207.6 396.5,210.4" fill="none" stroke="#444" stroke-width="1.0"/>
<polyline points="357.4,219.3 357.4,216.5 396.5,216.5 396.5,219.3" fill="none" stroke="#444" stroke-width="1.0"/>
<polyline points="376.5,226.60000000000002 376.5,223.8 396.5,223.8 396.5,226.60000000000002" fill="none" stroke="#444" stroke-width="1.0"/>
<text x="367.00" y="207.50" font-size="7" text-anchor="middle" font-weight="normal" fill="#3a3a3a" stroke="#3a3a3a" stroke-width="0.2" >*</text>
<text x="377.00" y="216.00" font-size="7" text-anchor="middle" font-weight="normal" fill="#3a3a3a" stroke="#3a3a3a" stroke-width="0.2" >**</text>
<text x="386.50" y="223.30" font-size="7" text-anchor="middle" font-weight="normal" fill="#3a3a3a" stroke="#3a3a3a" stroke-width="0.2" >*</text>
<rect x="42.80" y="450.41" width="9.40" height="44.59" fill="#33a2dd"/>
<rect x="54.80" y="454.82" width="9.40" height="40.18" fill="#33a2dd"/>
<rect x="66.40" y="453.84" width="9.40" height="41.16" fill="#33a2dd"/>
<rect x="77.90" y="455.80" width="9.40" height="39.20" fill="#33a2dd"/>
<rect x="89.50" y="452.86" width="9.40" height="42.14" fill="#33a2dd"/>
<rect x="110.30" y="457.27" width="9.40" height="37.73" fill="#f4a742"/>
<rect x="122.40" y="459.72" width="9.40" height="35.28" fill="#f4a742"/>
<rect x="134.30" y="461.68" width="9.40" height="33.32" fill="#f4a742"/>
<rect x="146.30" y="462.66" width="9.40" height="32.34" fill="#f4a742"/>
<rect x="157.30" y="468.05" width="9.40" height="26.95" fill="#f4a742"/>
<line x1="47.50" y1="449.77" x2="47.50" y2="453.27" stroke="#2a2a2a" stroke-width="0.6"/>
<line x1="59.50" y1="448.46" x2="59.50" y2="458.36" stroke="#2a2a2a" stroke-width="0.6"/>
<line x1="71.10" y1="449.84" x2="71.10" y2="460.44" stroke="#2a2a2a" stroke-width="0.6"/>
<line x1="82.60" y1="449.16" x2="82.60" y2="459.78" stroke="#2a2a2a" stroke-width="0.6"/>
<line x1="94.20" y1="448.14" x2="94.20" y2="459.45" stroke="#2a2a2a" stroke-width="0.6"/>
<line x1="115.00" y1="452.49" x2="115.00" y2="458.03" stroke="#2a2a2a" stroke-width="0.6"/>
<line x1="127.10" y1="456.49" x2="127.10" y2="469.86" stroke="#2a2a2a" stroke-width="0.6"/>
<line x1="139.00" y1="456.65" x2="139.00" y2="469.32" stroke="#2a2a2a" stroke-width="0.6"/>
<line x1="151.00" y1="455.75" x2="151.00" y2="469.70" stroke="#2a2a2a" stroke-width="0.6"/>
<line x1="162.00" y1="458.70" x2="162.00" y2="469.29" stroke="#2a2a2a" stroke-width="0.6"/>
<circle cx="43.50" cy="450.02" r="1.75" fill="#fff" stroke="#2a2a2a" stroke-width="0.6"/>
<circle cx="47.50" cy="453.45" r="1.75" fill="#fff" stroke="#2a2a2a" stroke-width="0.6"/>
<circle cx="51.00" cy="451.10" r="1.75" fill="#fff" stroke="#2a2a2a" stroke-width="0.6"/>
<circle cx="59.60" cy="445.41" r="1.75" fill="#fff" stroke="#2a2a2a" stroke-width="0.6"/>
<rect x="57.84" y="447.28" width="3.32" height="3.32" fill="#fff" stroke="#2a2a2a" stroke-width="0.6"/>
<circle cx="55.60" cy="452.27" r="1.75" fill="#fff" stroke="#2a2a2a" stroke-width="0.6"/>
<circle cx="61.30" cy="453.55" r="1.75" fill="#fff" stroke="#2a2a2a" stroke-width="0.6"/>
<circle cx="57.30" cy="456.29" r="1.75" fill="#fff" stroke="#2a2a2a" stroke-width="0.6"/>
<circle cx="60.80" cy="458.64" r="1.75" fill="#fff" stroke="#2a2a2a" stroke-width="0.6"/>
<rect x="57.94" y="462.76" width="3.32" height="3.32" fill="#fff" stroke="#2a2a2a" stroke-width="0.6"/>
<polygon points="59.00,448.00 60.83,451.27 57.17,451.27" fill="#fff" stroke="#2a2a2a" stroke-width="0.6"/>
<rect x="57.21" y="449.66" width="3.32" height="3.32" fill="#fff" stroke="#2a2a2a" stroke-width="0.6"/>
<circle cx="56.03" cy="451.87" r="1.75" fill="#fff" stroke="#2a2a2a" stroke-width="0.6"/>
<circle cx="55.85" cy="452.19" r="1.75" fill="#fff" stroke="#2a2a2a" stroke-width="0.6"/>
<rect x="56.59" y="454.39" width="3.32" height="3.32" fill="#fff" stroke="#2a2a2a" stroke-width="0.6"/>
<rect x="68.94" y="443.16" width="3.32" height="3.32" fill="#fff" stroke="#2a2a2a" stroke-width="0.6"/>
<rect x="66.04" y="448.36" width="3.32" height="3.32" fill="#fff" stroke="#2a2a2a" stroke-width="0.6"/>
<rect x="72.94" y="446.59" width="3.32" height="3.32" fill="#fff" stroke="#2a2a2a" stroke-width="0.6"/>
<circle cx="71.10" cy="453.55" r="1.75" fill="#fff" stroke="#2a2a2a" stroke-width="0.6"/>
<rect x="66.04" y="456.39" width="3.32" height="3.32" fill="#fff" stroke="#2a2a2a" stroke-width="0.6"/>
<circle cx="74.60" cy="455.21" r="1.75" fill="#fff" stroke="#2a2a2a" stroke-width="0.6"/>
<circle cx="71.10" cy="459.23" r="1.75" fill="#fff" stroke="#2a2a2a" stroke-width="0.6"/>
<rect x="72.94" y="459.33" width="3.32" height="3.32" fill="#fff" stroke="#2a2a2a" stroke-width="0.6"/>
<circle cx="67.70" cy="462.07" r="1.75" fill="#fff" stroke="#2a2a2a" stroke-width="0.6"/>
<circle cx="72.08" cy="457.61" r="1.75" fill="#fff" stroke="#2a2a2a" stroke-width="0.6"/>
<rect x="68.64" y="449.08" width="3.32" height="3.32" fill="#fff" stroke="#2a2a2a" stroke-width="0.6"/>
<circle cx="71.32" cy="459.45" r="1.75" fill="#fff" stroke="#2a2a2a" stroke-width="0.6"/>
<rect x="67.41" y="455.16" width="3.32" height="3.32" fill="#fff" stroke="#2a2a2a" stroke-width="0.6"/>
<polygon points="82.70,444.07 84.53,447.35 80.87,447.35" fill="#fff" stroke="#2a2a2a" stroke-width="0.6"/>
<circle cx="79.20" cy="450.02" r="1.75" fill="#fff" stroke="#2a2a2a" stroke-width="0.6"/>
<rect x="83.94" y="450.02" width="3.32" height="3.32" fill="#fff" stroke="#2a2a2a" stroke-width="0.6"/>
<circle cx="79.20" cy="453.55" r="1.75" fill="#fff" stroke="#2a2a2a" stroke-width="0.6"/>
<circle cx="82.70" cy="456.29" r="1.75" fill="#fff" stroke="#2a2a2a" stroke-width="0.6"/>
<rect x="83.94" y="458.16" width="3.32" height="3.32" fill="#fff" stroke="#2a2a2a" stroke-width="0.6"/>
<circle cx="82.70" cy="465.60" r="1.75" fill="#fff" stroke="#2a2a2a" stroke-width="0.6"/>
<rect x="81.23" y="451.43" width="3.32" height="3.32" fill="#fff" stroke="#2a2a2a" stroke-width="0.6"/>
<rect x="80.97" y="456.72" width="3.32" height="3.32" fill="#fff" stroke="#2a2a2a" stroke-width="0.6"/>
<circle cx="80.60" cy="452.49" r="1.75" fill="#fff" stroke="#2a2a2a" stroke-width="0.6"/>
<circle cx="79.29" cy="452.26" r="1.75" fill="#fff" stroke="#2a2a2a" stroke-width="0.6"/>
<polygon points="94.20,442.31 96.03,445.58 92.37,445.58" fill="#fff" stroke="#2a2a2a" stroke-width="0.6"/>
<rect x="90.84" y="446.59" width="3.32" height="3.32" fill="#fff" stroke="#2a2a2a" stroke-width="0.6"/>
<circle cx="96.50" cy="448.84" r="1.75" fill="#fff" stroke="#2a2a2a" stroke-width="0.6"/>
<circle cx="90.80" cy="450.61" r="1.75" fill="#fff" stroke="#2a2a2a" stroke-width="0.6"/>
<circle cx="97.70" cy="451.10" r="1.75" fill="#fff" stroke="#2a2a2a" stroke-width="0.6"/>
<circle cx="93.10" cy="454.04" r="1.75" fill="#fff" stroke="#2a2a2a" stroke-width="0.6"/>
<circle cx="96.00" cy="456.88" r="1.75" fill="#fff" stroke="#2a2a2a" stroke-width="0.6"/>
<circle cx="94.20" cy="459.82" r="1.75" fill="#fff" stroke="#2a2a2a" stroke-width="0.6"/>
<polygon points="94.20,463.68 96.03,466.95 92.37,466.95" fill="#fff" stroke="#2a2a2a" stroke-width="0.6"/>
<circle cx="95.61" cy="455.91" r="1.75" fill="#fff" stroke="#2a2a2a" stroke-width="0.6"/>
<circle cx="94.11" cy="452.83" r="1.75" fill="#fff" stroke="#2a2a2a" stroke-width="0.6"/>
<circle cx="93.67" cy="452.25" r="1.75" fill="#fff" stroke="#2a2a2a" stroke-width="0.6"/>
<circle cx="95.79" cy="458.96" r="1.75" fill="#fff" stroke="#2a2a2a" stroke-width="0.6"/>
<rect x="113.24" y="449.83" width="3.32" height="3.32" fill="#fff" stroke="#2a2a2a" stroke-width="0.6"/>
<polygon points="112.00,455.93 113.83,459.21 110.17,459.21" fill="#fff" stroke="#2a2a2a" stroke-width="0.6"/>
<circle cx="115.50" cy="455.02" r="1.75" fill="#fff" stroke="#2a2a2a" stroke-width="0.6"/>
<circle cx="118.40" cy="456.68" r="1.75" fill="#fff" stroke="#2a2a2a" stroke-width="0.6"/>
<rect x="121.34" y="452.18" width="3.32" height="3.32" fill="#fff" stroke="#2a2a2a" stroke-width="0.6"/>
<rect x="124.84" y="451.59" width="3.32" height="3.32" fill="#fff" stroke="#2a2a2a" stroke-width="0.6"/>
<rect x="128.84" y="451.59" width="3.32" height="3.32" fill="#fff" stroke="#2a2a2a" stroke-width="0.6"/>
<circle cx="123.00" cy="459.03" r="1.75" fill="#fff" stroke="#2a2a2a" stroke-width="0.6"/>
<rect x="124.84" y="456.10" width="3.32" height="3.32" fill="#fff" stroke="#2a2a2a" stroke-width="0.6"/>
<rect x="128.84" y="458.55" width="3.32" height="3.32" fill="#fff" stroke="#2a2a2a" stroke-width="0.6"/>
<circle cx="126.50" cy="462.46" r="1.75" fill="#fff" stroke="#2a2a2a" stroke-width="0.6"/>
<circle cx="128.80" cy="464.82" r="1.75" fill="#fff" stroke="#2a2a2a" stroke-width="0.6"/>
<rect x="123.64" y="465.41" width="3.32" height="3.32" fill="#fff" stroke="#2a2a2a" stroke-width="0.6"/>
<polygon points="127.00,468.67 128.83,471.95 125.17,471.95" fill="#fff" stroke="#2a2a2a" stroke-width="0.6"/>
<rect x="125.34" y="472.37" width="3.32" height="3.32" fill="#fff" stroke="#2a2a2a" stroke-width="0.6"/>
<rect x="127.27" y="464.78" width="3.32" height="3.32" fill="#fff" stroke="#2a2a2a" stroke-width="0.6"/>
<rect x="129.37" y="466.47" width="3.32" height="3.32" fill="#fff" stroke="#2a2a2a" stroke-width="0.6"/>
<circle cx="130.31" cy="466.59" r="1.75" fill="#fff" stroke="#2a2a2a" stroke-width="0.6"/>
<circle cx="129.84" cy="470.09" r="1.75" fill="#fff" stroke="#2a2a2a" stroke-width="0.6"/>
<circle cx="135.70" cy="457.27" r="1.75" fill="#fff" stroke="#2a2a2a" stroke-width="0.6"/>
<circle cx="139.10" cy="459.03" r="1.75" fill="#fff" stroke="#2a2a2a" stroke-width="0.6"/>
<circle cx="142.00" cy="455.02" r="1.75" fill="#fff" stroke="#2a2a2a" stroke-width="0.6"/>
<rect x="140.34" y="457.08" width="3.32" height="3.32" fill="#fff" stroke="#2a2a2a" stroke-width="0.6"/>
<circle cx="137.40" cy="462.46" r="1.75" fill="#fff" stroke="#2a2a2a" stroke-width="0.6"/>
<rect x="137.44" y="464.33" width="3.32" height="3.32" fill="#fff" stroke="#2a2a2a" stroke-width="0.6"/>
<polygon points="139.10,468.08 140.93,471.36 137.27,471.36" fill="#fff" stroke="#2a2a2a" stroke-width="0.6"/>
<polygon points="138.60,474.94 140.43,478.22 136.77,478.22" fill="#fff" stroke="#2a2a2a" stroke-width="0.6"/>
<rect x="141.23" y="457.78" width="3.32" height="3.32" fill="#fff" stroke="#2a2a2a" stroke-width="0.6"/>
<rect x="137.87" y="463.92" width="3.32" height="3.32" fill="#fff" stroke="#2a2a2a" stroke-width="0.6"/>
<rect x="141.30" y="465.53" width="3.32" height="3.32" fill="#fff" stroke="#2a2a2a" stroke-width="0.6"/>
<circle cx="140.48" cy="458.19" r="1.75" fill="#fff" stroke="#2a2a2a" stroke-width="0.6"/>
<rect x="147.34" y="451.00" width="3.32" height="3.32" fill="#fff" stroke="#2a2a2a" stroke-width="0.6"/>
<rect x="150.34" y="450.71" width="3.32" height="3.32" fill="#fff" stroke="#2a2a2a" stroke-width="0.6"/>
<circle cx="146.00" cy="458.54" r="1.75" fill="#fff" stroke="#2a2a2a" stroke-width="0.6"/>
<circle cx="149.50" cy="457.27" r="1.75" fill="#fff" stroke="#2a2a2a" stroke-width="0.6"/>
<circle cx="152.40" cy="460.21" r="1.75" fill="#fff" stroke="#2a2a2a" stroke-width="0.6"/>
<rect x="147.84" y="460.80" width="3.32" height="3.32" fill="#fff" stroke="#2a2a2a" stroke-width="0.6"/>
<polygon points="148.40,465.73 150.23,469.01 146.57,469.01" fill="#fff" stroke="#2a2a2a" stroke-width="0.6"/>
<polygon points="150.70,468.67 152.53,471.95 148.87,471.95" fill="#fff" stroke="#2a2a2a" stroke-width="0.6"/>
<circle cx="149.50" cy="475.79" r="1.75" fill="#fff" stroke="#2a2a2a" stroke-width="0.6"/>
<circle cx="148.29" cy="462.79" r="1.75" fill="#fff" stroke="#2a2a2a" stroke-width="0.6"/>
<rect x="148.88" y="468.85" width="3.32" height="3.32" fill="#fff" stroke="#2a2a2a" stroke-width="0.6"/>
<circle cx="148.12" cy="463.69" r="1.75" fill="#fff" stroke="#2a2a2a" stroke-width="0.6"/>
<rect x="150.77" y="459.20" width="3.32" height="3.32" fill="#fff" stroke="#2a2a2a" stroke-width="0.6"/>
<circle cx="157.60" cy="458.54" r="1.75" fill="#fff" stroke="#2a2a2a" stroke-width="0.6"/>
<circle cx="164.50" cy="457.86" r="1.75" fill="#fff" stroke="#2a2a2a" stroke-width="0.6"/>
<rect x="159.34" y="459.63" width="3.32" height="3.32" fill="#fff" stroke="#2a2a2a" stroke-width="0.6"/>
<rect x="157.04" y="462.57" width="3.32" height="3.32" fill="#fff" stroke="#2a2a2a" stroke-width="0.6"/>
<circle cx="163.00" cy="464.13" r="1.75" fill="#fff" stroke="#2a2a2a" stroke-width="0.6"/>
<rect x="162.84" y="465.41" width="3.32" height="3.32" fill="#fff" stroke="#2a2a2a" stroke-width="0.6"/>
<circle cx="161.00" cy="467.56" r="1.75" fill="#fff" stroke="#2a2a2a" stroke-width="0.6"/>
<polygon points="161.60,475.53 163.43,478.81 159.77,478.81" fill="#fff" stroke="#2a2a2a" stroke-width="0.6"/>
<circle cx="158.26" cy="461.35" r="1.75" fill="#fff" stroke="#2a2a2a" stroke-width="0.6"/>
<rect x="162.20" y="458.93" width="3.32" height="3.32" fill="#fff" stroke="#2a2a2a" stroke-width="0.6"/>
<circle cx="163.59" cy="461.55" r="1.75" fill="#fff" stroke="#2a2a2a" stroke-width="0.6"/>
<circle cx="160.26" cy="466.36" r="1.75" fill="#fff" stroke="#2a2a2a" stroke-width="0.6"/>
<line x1="38.50" y1="395.00" x2="38.50" y2="495.80" stroke="#2a2a2a" stroke-width="1.25"/>
<line x1="36.00" y1="495.00" x2="38.50" y2="495.00" stroke="#2a2a2a" stroke-width="1.0"/>
<text x="33.00" y="497.80" font-size="8.2" text-anchor="end" font-weight="normal" fill="#222" stroke="#222" stroke-width="0.15" letter-spacing="0.2">0</text>
<line x1="36.00" y1="475.40" x2="38.50" y2="475.40" stroke="#2a2a2a" stroke-width="1.0"/>
<text x="33.00" y="478.20" font-size="8.2" text-anchor="end" font-weight="normal" fill="#222" stroke="#222" stroke-width="0.15" letter-spacing="0.2">20</text>
<line x1="36.00" y1="455.80" x2="38.50" y2="455.80" stroke="#2a2a2a" stroke-width="1.0"/>
<text x="33.00" y="458.60" font-size="8.2" text-anchor="end" font-weight="normal" fill="#222" stroke="#222" stroke-width="0.15" letter-spacing="0.2">40</text>
<line x1="36.00" y1="436.20" x2="38.50" y2="436.20" stroke="#2a2a2a" stroke-width="1.0"/>
<text x="33.00" y="439.00" font-size="8.2" text-anchor="end" font-weight="normal" fill="#222" stroke="#222" stroke-width="0.15" letter-spacing="0.2">60</text>
<line x1="36.00" y1="416.60" x2="38.50" y2="416.60" stroke="#2a2a2a" stroke-width="1.0"/>
<text x="33.00" y="419.40" font-size="8.2" text-anchor="end" font-weight="normal" fill="#222" stroke="#222" stroke-width="0.15" letter-spacing="0.2">80</text>
<line x1="36.00" y1="397.00" x2="38.50" y2="397.00" stroke="#2a2a2a" stroke-width="1.0"/>
<text x="33.00" y="399.80" font-size="8.2" text-anchor="end" font-weight="normal" fill="#222" stroke="#222" stroke-width="0.15" letter-spacing="0.2">100</text>
<line x1="37.90" y1="495.50" x2="172.00" y2="495.50" stroke="#2a2a2a" stroke-width="1.25"/>
<line x1="47.50" y1="495.50" x2="47.50" y2="497.90" stroke="#2a2a2a" stroke-width="0.9"/>
<line x1="59.50" y1="495.50" x2="59.50" y2="497.90" stroke="#2a2a2a" stroke-width="0.9"/>
<line x1="71.10" y1="495.50" x2="71.10" y2="497.90" stroke="#2a2a2a" stroke-width="0.9"/>
<line x1="82.60" y1="495.50" x2="82.60" y2="497.90" stroke="#2a2a2a" stroke-width="0.9"/>
<line x1="94.20" y1="495.50" x2="94.20" y2="497.90" stroke="#2a2a2a" stroke-width="0.9"/>
<line x1="115.00" y1="495.50" x2="115.00" y2="497.90" stroke="#2a2a2a" stroke-width="0.9"/>
<line x1="127.10" y1="495.50" x2="127.10" y2="497.90" stroke="#2a2a2a" stroke-width="0.9"/>
<line x1="139.00" y1="495.50" x2="139.00" y2="497.90" stroke="#2a2a2a" stroke-width="0.9"/>
<line x1="151.00" y1="495.50" x2="151.00" y2="497.90" stroke="#2a2a2a" stroke-width="0.9"/>
<line x1="162.00" y1="495.50" x2="162.00" y2="497.90" stroke="#2a2a2a" stroke-width="0.9"/>
<text transform="translate(52.50,507.00) rotate(-45)" font-size="8.1" text-anchor="end" fill="#222" stroke="#222" stroke-width="0.15" letter-spacing="0.1">Expected</text>
<text transform="translate(64.50,507.00) rotate(-45)" font-size="8.1" text-anchor="end" fill="#222" stroke="#222" stroke-width="0.15" letter-spacing="0.1">CD19+</text>
<text transform="translate(76.10,507.00) rotate(-45)" font-size="8.1" text-anchor="end" fill="#222" stroke="#222" stroke-width="0.15" letter-spacing="0.1">CD11b+</text>
<text transform="translate(87.60,507.00) rotate(-45)" font-size="8.1" text-anchor="end" fill="#222" stroke="#222" stroke-width="0.15" letter-spacing="0.1">CD34+</text>
<text transform="translate(99.20,507.00) rotate(-45)" font-size="8.1" text-anchor="end" fill="#222" stroke="#222" stroke-width="0.15" letter-spacing="0.1">CD235+</text>
<text transform="translate(120.00,507.00) rotate(-45)" font-size="8.1" text-anchor="end" fill="#222" stroke="#222" stroke-width="0.15" letter-spacing="0.1">Expected</text>
<text transform="translate(132.10,507.00) rotate(-45)" font-size="8.1" text-anchor="end" fill="#222" stroke="#222" stroke-width="0.15" letter-spacing="0.1">CD19+</text>
<text transform="translate(144.00,507.00) rotate(-45)" font-size="8.1" text-anchor="end" fill="#222" stroke="#222" stroke-width="0.15" letter-spacing="0.1">CD11b+</text>
<text transform="translate(156.00,507.00) rotate(-45)" font-size="8.1" text-anchor="end" fill="#222" stroke="#222" stroke-width="0.15" letter-spacing="0.1">CD34+</text>
<text transform="translate(167.00,507.00) rotate(-45)" font-size="8.1" text-anchor="end" fill="#222" stroke="#222" stroke-width="0.15" letter-spacing="0.1">CD235+</text>
<text transform="translate(11.80,444.50) rotate(-90) scale(0.78,1)" font-size="8.2" text-anchor="middle" fill="#222" stroke="#222" stroke-width="0.35" dominant-baseline="central">% Indel</text>
<text x="105.60" y="387.50" font-size="9.2" text-anchor="middle" font-weight="normal" fill="#222" stroke="#222" stroke-width="0.12" letter-spacing="0.35"><tspan font-style="italic">CD33+HBG</tspan><tspan font-size="6.3" dy="-2.8">P</tspan></text>
<line x1="41.25" y1="531.75" x2="95.50" y2="531.75" stroke="#555" stroke-width="1.0"/>
<text x="68.40" y="542.00" font-size="7.6" text-anchor="middle" font-weight="normal" fill="#222" stroke="#222" stroke-width="0.15" letter-spacing="0.15">CD33 indels</text>
<line x1="113.00" y1="531.75" x2="165.50" y2="531.75" stroke="#555" stroke-width="1.0"/>
<text x="139.00" y="542.00" font-size="7.6" text-anchor="middle" font-weight="normal" fill="#222" stroke="#222" stroke-width="0.15" letter-spacing="0.15">HBG<tspan font-size="5.6" dy="-2.6">P</tspan><tspan dy="2.6"> indels</tspan></text>
<rect x="214.30" y="450.41" width="9.40" height="44.59" fill="#33a2dd"/>
<rect x="226.20" y="437.87" width="9.40" height="57.13" fill="#33a2dd"/>
<rect x="238.05" y="438.85" width="9.40" height="56.15" fill="#33a2dd"/>
<rect x="249.40" y="441.30" width="9.40" height="53.70" fill="#33a2dd"/>
<rect x="261.30" y="422.48" width="9.40" height="72.52" fill="#33a2dd"/>
<rect x="281.60" y="452.47" width="9.40" height="42.53" fill="#d84a3f"/>
<rect x="293.75" y="460.01" width="9.40" height="34.99" fill="#d84a3f"/>
<rect x="305.10" y="459.43" width="9.40" height="35.57" fill="#d84a3f"/>
<rect x="316.50" y="460.01" width="9.40" height="34.99" fill="#d84a3f"/>
<rect x="327.90" y="481.28" width="9.40" height="13.72" fill="#d84a3f"/>
<line x1="219.00" y1="450.37" x2="219.00" y2="453.00" stroke="#2a2a2a" stroke-width="0.6"/>
<line x1="230.90" y1="434.21" x2="230.90" y2="453.35" stroke="#2a2a2a" stroke-width="0.6"/>
<line x1="242.75" y1="433.90" x2="242.75" y2="449.18" stroke="#2a2a2a" stroke-width="0.6"/>
<line x1="254.10" y1="432.02" x2="254.10" y2="448.59" stroke="#2a2a2a" stroke-width="0.6"/>
<line x1="266.00" y1="414.70" x2="266.00" y2="422.13" stroke="#2a2a2a" stroke-width="0.6"/>
<line x1="286.30" y1="450.78" x2="286.30" y2="455.97" stroke="#2a2a2a" stroke-width="0.6"/>
<line x1="298.45" y1="442.63" x2="298.45" y2="464.49" stroke="#2a2a2a" stroke-width="0.6"/>
<line x1="309.80" y1="447.78" x2="309.80" y2="468.45" stroke="#2a2a2a" stroke-width="0.6"/>
<line x1="321.20" y1="443.15" x2="321.20" y2="463.70" stroke="#2a2a2a" stroke-width="0.6"/>
<line x1="332.60" y1="477.40" x2="332.60" y2="483.81" stroke="#2a2a2a" stroke-width="0.6"/>
<circle cx="215.00" cy="450.61" r="1.75" fill="#fff" stroke="#2a2a2a" stroke-width="0.6"/>
<circle cx="218.10" cy="453.15" r="1.75" fill="#fff" stroke="#2a2a2a" stroke-width="0.6"/>
<circle cx="221.90" cy="451.29" r="1.75" fill="#fff" stroke="#2a2a2a" stroke-width="0.6"/>
<rect x="228.34" y="423.37" width="3.32" height="3.32" fill="#fff" stroke="#2a2a2a" stroke-width="0.6"/>
<polygon points="230.00,429.38 231.83,432.65 228.17,432.65" fill="#fff" stroke="#2a2a2a" stroke-width="0.6"/>
<rect x="225.24" y="433.95" width="3.32" height="3.32" fill="#fff" stroke="#2a2a2a" stroke-width="0.6"/>
<circle cx="233.10" cy="437.47" r="1.75" fill="#fff" stroke="#2a2a2a" stroke-width="0.6"/>
<circle cx="230.00" cy="441.88" r="1.75" fill="#fff" stroke="#2a2a2a" stroke-width="0.6"/>
<circle cx="230.00" cy="445.02" r="1.75" fill="#fff" stroke="#2a2a2a" stroke-width="0.6"/>
<circle cx="230.00" cy="448.16" r="1.75" fill="#fff" stroke="#2a2a2a" stroke-width="0.6"/>
<circle cx="230.00" cy="453.74" r="1.75" fill="#fff" stroke="#2a2a2a" stroke-width="0.6"/>
<circle cx="230.00" cy="459.43" r="1.75" fill="#fff" stroke="#2a2a2a" stroke-width="0.6"/>
<rect x="230.50" y="449.01" width="3.32" height="3.32" fill="#fff" stroke="#2a2a2a" stroke-width="0.6"/>
<rect x="227.53" y="440.43" width="3.32" height="3.32" fill="#fff" stroke="#2a2a2a" stroke-width="0.6"/>
<circle cx="227.52" cy="450.76" r="1.75" fill="#fff" stroke="#2a2a2a" stroke-width="0.6"/>
<circle cx="234.33" cy="447.94" r="1.75" fill="#fff" stroke="#2a2a2a" stroke-width="0.6"/>
<rect x="237.09" y="430.81" width="3.32" height="3.32" fill="#fff" stroke="#2a2a2a" stroke-width="0.6"/>
<rect x="237.09" y="433.56" width="3.32" height="3.32" fill="#fff" stroke="#2a2a2a" stroke-width="0.6"/>
<rect x="241.44" y="433.36" width="3.32" height="3.32" fill="#fff" stroke="#2a2a2a" stroke-width="0.6"/>
<rect x="244.59" y="433.95" width="3.32" height="3.32" fill="#fff" stroke="#2a2a2a" stroke-width="0.6"/>
<circle cx="241.85" cy="439.14" r="1.75" fill="#fff" stroke="#2a2a2a" stroke-width="0.6"/>
<circle cx="242.45" cy="445.02" r="1.75" fill="#fff" stroke="#2a2a2a" stroke-width="0.6"/>
<circle cx="241.85" cy="452.47" r="1.75" fill="#fff" stroke="#2a2a2a" stroke-width="0.6"/>
<circle cx="241.85" cy="458.15" r="1.75" fill="#fff" stroke="#2a2a2a" stroke-width="0.6"/>
<circle cx="241.01" cy="445.32" r="1.75" fill="#fff" stroke="#2a2a2a" stroke-width="0.6"/>
<circle cx="239.36" cy="437.66" r="1.75" fill="#fff" stroke="#2a2a2a" stroke-width="0.6"/>
<circle cx="243.28" cy="441.13" r="1.75" fill="#fff" stroke="#2a2a2a" stroke-width="0.6"/>
<rect x="237.90" y="439.61" width="3.32" height="3.32" fill="#fff" stroke="#2a2a2a" stroke-width="0.6"/>
<circle cx="254.40" cy="427.48" r="1.75" fill="#fff" stroke="#2a2a2a" stroke-width="0.6"/>
<rect x="251.44" y="428.95" width="3.32" height="3.32" fill="#fff" stroke="#2a2a2a" stroke-width="0.6"/>
<rect x="251.44" y="432.09" width="3.32" height="3.32" fill="#fff" stroke="#2a2a2a" stroke-width="0.6"/>
<circle cx="250.00" cy="440.61" r="1.75" fill="#fff" stroke="#2a2a2a" stroke-width="0.6"/>
<circle cx="253.10" cy="439.14" r="1.75" fill="#fff" stroke="#2a2a2a" stroke-width="0.6"/>
<circle cx="257.50" cy="441.30" r="1.75" fill="#fff" stroke="#2a2a2a" stroke-width="0.6"/>
<rect x="253.44" y="441.89" width="3.32" height="3.32" fill="#fff" stroke="#2a2a2a" stroke-width="0.6"/>
<circle cx="254.40" cy="446.88" r="1.75" fill="#fff" stroke="#2a2a2a" stroke-width="0.6"/>
<circle cx="253.75" cy="460.60" r="1.75" fill="#fff" stroke="#2a2a2a" stroke-width="0.6"/>
<circle cx="254.92" cy="437.77" r="1.75" fill="#fff" stroke="#2a2a2a" stroke-width="0.6"/>
<rect x="253.20" y="444.68" width="3.32" height="3.32" fill="#fff" stroke="#2a2a2a" stroke-width="0.6"/>
<circle cx="256.71" cy="438.13" r="1.75" fill="#fff" stroke="#2a2a2a" stroke-width="0.6"/>
<rect x="251.58" y="436.11" width="3.32" height="3.32" fill="#fff" stroke="#2a2a2a" stroke-width="0.6"/>
<rect x="263.34" y="407.78" width="3.32" height="3.32" fill="#fff" stroke="#2a2a2a" stroke-width="0.6"/>
<circle cx="265.00" cy="413.76" r="1.75" fill="#fff" stroke="#2a2a2a" stroke-width="0.6"/>
<circle cx="263.75" cy="417.48" r="1.75" fill="#fff" stroke="#2a2a2a" stroke-width="0.6"/>
<rect x="259.59" y="417.78" width="3.32" height="3.32" fill="#fff" stroke="#2a2a2a" stroke-width="0.6"/>
<circle cx="266.90" cy="420.03" r="1.75" fill="#fff" stroke="#2a2a2a" stroke-width="0.6"/>
<circle cx="262.50" cy="421.50" r="1.75" fill="#fff" stroke="#2a2a2a" stroke-width="0.6"/>
<circle cx="268.10" cy="422.48" r="1.75" fill="#fff" stroke="#2a2a2a" stroke-width="0.6"/>
<rect x="263.34" y="420.33" width="3.32" height="3.32" fill="#fff" stroke="#2a2a2a" stroke-width="0.6"/>
<rect x="261.49" y="417.19" width="3.32" height="3.32" fill="#fff" stroke="#2a2a2a" stroke-width="0.6"/>
<circle cx="266.30" cy="419.73" r="1.75" fill="#fff" stroke="#2a2a2a" stroke-width="0.6"/>
<rect x="264.02" y="415.05" width="3.32" height="3.32" fill="#fff" stroke="#2a2a2a" stroke-width="0.6"/>
<circle cx="264.48" cy="419.54" r="1.75" fill="#fff" stroke="#2a2a2a" stroke-width="0.6"/>
<rect x="280.09" y="448.94" width="3.32" height="3.32" fill="#fff" stroke="#2a2a2a" stroke-width="0.6"/>
<circle cx="286.00" cy="452.86" r="1.75" fill="#fff" stroke="#2a2a2a" stroke-width="0.6"/>
<circle cx="289.90" cy="453.15" r="1.75" fill="#fff" stroke="#2a2a2a" stroke-width="0.6"/>
<circle cx="285.50" cy="456.88" r="1.75" fill="#fff" stroke="#2a2a2a" stroke-width="0.6"/>
<circle cx="296.10" cy="434.44" r="1.75" fill="#fff" stroke="#2a2a2a" stroke-width="0.6"/>
<circle cx="299.90" cy="432.48" r="1.75" fill="#fff" stroke="#2a2a2a" stroke-width="0.6"/>
<circle cx="297.40" cy="446.88" r="1.75" fill="#fff" stroke="#2a2a2a" stroke-width="0.6"/>
<circle cx="298.00" cy="449.92" r="1.75" fill="#fff" stroke="#2a2a2a" stroke-width="0.6"/>
<rect x="296.34" y="452.08" width="3.32" height="3.32" fill="#fff" stroke="#2a2a2a" stroke-width="0.6"/>
<circle cx="294.25" cy="457.47" r="1.75" fill="#fff" stroke="#2a2a2a" stroke-width="0.6"/>
<rect x="299.44" y="456.49" width="3.32" height="3.32" fill="#fff" stroke="#2a2a2a" stroke-width="0.6"/>
<circle cx="294.25" cy="463.15" r="1.75" fill="#fff" stroke="#2a2a2a" stroke-width="0.6"/>
<rect x="299.44" y="462.76" width="3.32" height="3.32" fill="#fff" stroke="#2a2a2a" stroke-width="0.6"/>
<circle cx="298.00" cy="467.07" r="1.75" fill="#fff" stroke="#2a2a2a" stroke-width="0.6"/>
<polygon points="294.25,468.67 296.08,471.95 292.42,471.95" fill="#fff" stroke="#2a2a2a" stroke-width="0.6"/>
<rect x="293.80" y="449.15" width="3.32" height="3.32" fill="#fff" stroke="#2a2a2a" stroke-width="0.6"/>
<circle cx="301.28" cy="457.95" r="1.75" fill="#fff" stroke="#2a2a2a" stroke-width="0.6"/>
<circle cx="297.69" cy="448.19" r="1.75" fill="#fff" stroke="#2a2a2a" stroke-width="0.6"/>
<rect x="293.02" y="446.44" width="3.32" height="3.32" fill="#fff" stroke="#2a2a2a" stroke-width="0.6"/>
<circle cx="309.25" cy="436.20" r="1.75" fill="#fff" stroke="#2a2a2a" stroke-width="0.6"/>
<circle cx="309.25" cy="440.02" r="1.75" fill="#fff" stroke="#2a2a2a" stroke-width="0.6"/>
<circle cx="306.10" cy="450.02" r="1.75" fill="#fff" stroke="#2a2a2a" stroke-width="0.6"/>
<circle cx="306.10" cy="453.35" r="1.75" fill="#fff" stroke="#2a2a2a" stroke-width="0.6"/>
<rect x="304.44" y="455.80" width="3.32" height="3.32" fill="#fff" stroke="#2a2a2a" stroke-width="0.6"/>
<circle cx="309.25" cy="460.21" r="1.75" fill="#fff" stroke="#2a2a2a" stroke-width="0.6"/>
<rect x="304.44" y="462.08" width="3.32" height="3.32" fill="#fff" stroke="#2a2a2a" stroke-width="0.6"/>
<circle cx="306.10" cy="467.07" r="1.75" fill="#fff" stroke="#2a2a2a" stroke-width="0.6"/>
<circle cx="306.10" cy="470.01" r="1.75" fill="#fff" stroke="#2a2a2a" stroke-width="0.6"/>
<polygon points="311.75,465.63 313.58,468.91 309.92,468.91" fill="#fff" stroke="#2a2a2a" stroke-width="0.6"/>
<circle cx="311.98" cy="466.37" r="1.75" fill="#fff" stroke="#2a2a2a" stroke-width="0.6"/>
<circle cx="309.75" cy="454.28" r="1.75" fill="#fff" stroke="#2a2a2a" stroke-width="0.6"/>
<circle cx="310.83" cy="462.64" r="1.75" fill="#fff" stroke="#2a2a2a" stroke-width="0.6"/>
<rect x="306.28" y="462.97" width="3.32" height="3.32" fill="#fff" stroke="#2a2a2a" stroke-width="0.6"/>
<circle cx="321.10" cy="428.07" r="1.75" fill="#fff" stroke="#2a2a2a" stroke-width="0.6"/>
<circle cx="321.10" cy="438.75" r="1.75" fill="#fff" stroke="#2a2a2a" stroke-width="0.6"/>
<circle cx="321.10" cy="447.47" r="1.75" fill="#fff" stroke="#2a2a2a" stroke-width="0.6"/>
<circle cx="313.00" cy="450.61" r="1.75" fill="#fff" stroke="#2a2a2a" stroke-width="0.6"/>
<rect x="316.34" y="452.08" width="3.32" height="3.32" fill="#fff" stroke="#2a2a2a" stroke-width="0.6"/>
<circle cx="323.00" cy="454.33" r="1.75" fill="#fff" stroke="#2a2a2a" stroke-width="0.6"/>
<rect x="315.04" y="455.31" width="3.32" height="3.32" fill="#fff" stroke="#2a2a2a" stroke-width="0.6"/>
<rect x="319.44" y="455.80" width="3.32" height="3.32" fill="#fff" stroke="#2a2a2a" stroke-width="0.6"/>
<rect x="315.74" y="461.49" width="3.32" height="3.32" fill="#fff" stroke="#2a2a2a" stroke-width="0.6"/>
<rect x="322.59" y="462.08" width="3.32" height="3.32" fill="#fff" stroke="#2a2a2a" stroke-width="0.6"/>
<circle cx="321.10" cy="470.60" r="1.75" fill="#fff" stroke="#2a2a2a" stroke-width="0.6"/>
<circle cx="317.71" cy="459.54" r="1.75" fill="#fff" stroke="#2a2a2a" stroke-width="0.6"/>
<circle cx="324.47" cy="454.23" r="1.75" fill="#fff" stroke="#2a2a2a" stroke-width="0.6"/>
<circle cx="320.48" cy="452.76" r="1.75" fill="#fff" stroke="#2a2a2a" stroke-width="0.6"/>
<circle cx="324.42" cy="450.01" r="1.75" fill="#fff" stroke="#2a2a2a" stroke-width="0.6"/>
<circle cx="333.00" cy="473.73" r="1.75" fill="#fff" stroke="#2a2a2a" stroke-width="0.6"/>
<rect x="331.34" y="475.80" width="3.32" height="3.32" fill="#fff" stroke="#2a2a2a" stroke-width="0.6"/>
<circle cx="330.50" cy="479.91" r="1.75" fill="#fff" stroke="#2a2a2a" stroke-width="0.6"/>
<circle cx="335.50" cy="480.89" r="1.75" fill="#fff" stroke="#2a2a2a" stroke-width="0.6"/>
<rect x="326.94" y="480.21" width="3.32" height="3.32" fill="#fff" stroke="#2a2a2a" stroke-width="0.6"/>
<circle cx="330.50" cy="485.00" r="1.75" fill="#fff" stroke="#2a2a2a" stroke-width="0.6"/>
<circle cx="334.90" cy="483.83" r="1.75" fill="#fff" stroke="#2a2a2a" stroke-width="0.6"/>
<circle cx="329.90" cy="481.46" r="1.75" fill="#fff" stroke="#2a2a2a" stroke-width="0.6"/>
<circle cx="332.71" cy="482.26" r="1.75" fill="#fff" stroke="#2a2a2a" stroke-width="0.6"/>
<circle cx="332.80" cy="482.33" r="1.75" fill="#fff" stroke="#2a2a2a" stroke-width="0.6"/>
<rect x="331.28" y="476.22" width="3.32" height="3.32" fill="#fff" stroke="#2a2a2a" stroke-width="0.6"/>
<line x1="209.50" y1="395.00" x2="209.50" y2="495.80" stroke="#2a2a2a" stroke-width="1.25"/>
<line x1="207.00" y1="495.00" x2="209.50" y2="495.00" stroke="#2a2a2a" stroke-width="1.0"/>
<text x="204.00" y="497.80" font-size="8.2" text-anchor="end" font-weight="normal" fill="#222" stroke="#222" stroke-width="0.15" letter-spacing="0.2">0</text>
<line x1="207.00" y1="475.40" x2="209.50" y2="475.40" stroke="#2a2a2a" stroke-width="1.0"/>
<text x="204.00" y="478.20" font-size="8.2" text-anchor="end" font-weight="normal" fill="#222" stroke="#222" stroke-width="0.15" letter-spacing="0.2">20</text>
<line x1="207.00" y1="455.80" x2="209.50" y2="455.80" stroke="#2a2a2a" stroke-width="1.0"/>
<text x="204.00" y="458.60" font-size="8.2" text-anchor="end" font-weight="normal" fill="#222" stroke="#222" stroke-width="0.15" letter-spacing="0.2">40</text>
<line x1="207.00" y1="436.20" x2="209.50" y2="436.20" stroke="#2a2a2a" stroke-width="1.0"/>
<text x="204.00" y="439.00" font-size="8.2" text-anchor="end" font-weight="normal" fill="#222" stroke="#222" stroke-width="0.15" letter-spacing="0.2">60</text>
<line x1="207.00" y1="416.60" x2="209.50" y2="416.60" stroke="#2a2a2a" stroke-width="1.0"/>
<text x="204.00" y="419.40" font-size="8.2" text-anchor="end" font-weight="normal" fill="#222" stroke="#222" stroke-width="0.15" letter-spacing="0.2">80</text>
<line x1="207.00" y1="397.00" x2="209.50" y2="397.00" stroke="#2a2a2a" stroke-width="1.0"/>
<text x="204.00" y="399.80" font-size="8.2" text-anchor="end" font-weight="normal" fill="#222" stroke="#222" stroke-width="0.15" letter-spacing="0.2">100</text>
<line x1="208.90" y1="495.50" x2="342.50" y2="495.50" stroke="#2a2a2a" stroke-width="1.25"/>
<line x1="219.00" y1="495.50" x2="219.00" y2="497.90" stroke="#2a2a2a" stroke-width="0.9"/>
<line x1="230.90" y1="495.50" x2="230.90" y2="497.90" stroke="#2a2a2a" stroke-width="0.9"/>
<line x1="242.75" y1="495.50" x2="242.75" y2="497.90" stroke="#2a2a2a" stroke-width="0.9"/>
<line x1="254.10" y1="495.50" x2="254.10" y2="497.90" stroke="#2a2a2a" stroke-width="0.9"/>
<line x1="266.00" y1="495.50" x2="266.00" y2="497.90" stroke="#2a2a2a" stroke-width="0.9"/>
<line x1="286.30" y1="495.50" x2="286.30" y2="497.90" stroke="#2a2a2a" stroke-width="0.9"/>
<line x1="298.45" y1="495.50" x2="298.45" y2="497.90" stroke="#2a2a2a" stroke-width="0.9"/>
<line x1="309.80" y1="495.50" x2="309.80" y2="497.90" stroke="#2a2a2a" stroke-width="0.9"/>
<line x1="321.20" y1="495.50" x2="321.20" y2="497.90" stroke="#2a2a2a" stroke-width="0.9"/>
<line x1="332.60" y1="495.50" x2="332.60" y2="497.90" stroke="#2a2a2a" stroke-width="0.9"/>
<text transform="translate(224.00,507.00) rotate(-45)" font-size="8.1" text-anchor="end" fill="#222" stroke="#222" stroke-width="0.15" letter-spacing="0.1">Expected</text>
<text transform="translate(235.90,507.00) rotate(-45)" font-size="8.1" text-anchor="end" fill="#222" stroke="#222" stroke-width="0.15" letter-spacing="0.1">CD19+</text>
<text transform="translate(247.75,507.00) rotate(-45)" font-size="8.1" text-anchor="end" fill="#222" stroke="#222" stroke-width="0.15" letter-spacing="0.1">CD11b+</text>
<text transform="translate(259.10,507.00) rotate(-45)" font-size="8.1" text-anchor="end" fill="#222" stroke="#222" stroke-width="0.15" letter-spacing="0.1">CD34+</text>
<text transform="translate(271.00,507.00) rotate(-45)" font-size="8.1" text-anchor="end" fill="#222" stroke="#222" stroke-width="0.15" letter-spacing="0.1">CD235+</text>
<text transform="translate(291.30,507.00) rotate(-45)" font-size="8.1" text-anchor="end" fill="#222" stroke="#222" stroke-width="0.15" letter-spacing="0.1">Expected</text>
<text transform="translate(303.45,507.00) rotate(-45)" font-size="8.1" text-anchor="end" fill="#222" stroke="#222" stroke-width="0.15" letter-spacing="0.1">CD19+</text>
<text transform="translate(314.80,507.00) rotate(-45)" font-size="8.1" text-anchor="end" fill="#222" stroke="#222" stroke-width="0.15" letter-spacing="0.1">CD11b+</text>
<text transform="translate(326.20,507.00) rotate(-45)" font-size="8.1" text-anchor="end" fill="#222" stroke="#222" stroke-width="0.15" letter-spacing="0.1">CD34+</text>
<text transform="translate(337.60,507.00) rotate(-45)" font-size="8.1" text-anchor="end" fill="#222" stroke="#222" stroke-width="0.15" letter-spacing="0.1">CD235+</text>
<text transform="translate(182.80,444.50) rotate(-90) scale(0.78,1)" font-size="8.2" text-anchor="middle" fill="#222" stroke="#222" stroke-width="0.35" dominant-baseline="central">% Indel</text>
<text x="275.50" y="387.50" font-size="9.2" text-anchor="middle" font-weight="normal" fill="#222" stroke="#222" stroke-width="0.12" letter-spacing="0.35"><tspan font-style="italic">CD33+BCL11A</tspan><tspan font-size="6.3" dy="-2.8">E</tspan></text>
<line x1="225.80" y1="410.80" x2="256.50" y2="410.80" stroke="#555" stroke-width="1.0"/>
<polyline points="241.2,410.8 241.2,398.5 265.6,398.5 265.6,401.7" fill="none" stroke="#444" stroke-width="1.0"/>
<text x="254.00" y="397.50" font-size="7" text-anchor="middle" font-weight="normal" fill="#3a3a3a" stroke="#3a3a3a" stroke-width="0.2" >****</text>
<line x1="293.00" y1="410.90" x2="322.90" y2="410.90" stroke="#555" stroke-width="1.0"/>
<polyline points="309.5,410.9 309.5,398.1 333.6,398.1 333.6,421.6" fill="none" stroke="#444" stroke-width="1.0"/>
<text x="321.20" y="397.50" font-size="7" text-anchor="middle" font-weight="normal" fill="#3a3a3a" stroke="#3a3a3a" stroke-width="0.2" >****</text>
<line x1="214.25" y1="531.75" x2="266.25" y2="531.75" stroke="#555" stroke-width="1.0"/>
<text x="240.25" y="542.00" font-size="7.6" text-anchor="middle" font-weight="normal" fill="#222" stroke="#222" stroke-width="0.15" letter-spacing="0.15">CD33 indels</text>
<line x1="282.50" y1="531.75" x2="336.00" y2="531.75" stroke="#555" stroke-width="1.0"/>
<text x="309.00" y="542.00" font-size="7.6" text-anchor="middle" font-weight="normal" fill="#222" stroke="#222" stroke-width="0.15" letter-spacing="0.15">BCL11A<tspan font-size="5.6" dy="-2.6">E</tspan><tspan dy="2.6"> indels</tspan></text>
<rect x="221.55" y="548.7" width="5.4" height="5.4" fill="#33a2dd"/>
<text x="230.55" y="554.00" font-size="7.5" text-anchor="start" font-weight="normal" fill="#222" stroke="#222" stroke-width="0.05" ><tspan font-style="italic">CD33</tspan></text>
<rect x="254.8" y="548.7" width="5.4" height="5.4" fill="#f4a742"/>
<text x="263.80" y="554.00" font-size="7.5" text-anchor="start" font-weight="normal" fill="#222" stroke="#222" stroke-width="0.05" ><tspan font-style="italic">HBG</tspan><tspan font-size="5" dy="-3.2">P</tspan></text>
<rect x="292.3" y="548.7" width="5.4" height="5.4" fill="#d84a3f"/>
<text x="301.30" y="554.00" font-size="7.5" text-anchor="start" font-weight="normal" fill="#222" stroke="#222" stroke-width="0.05" ><tspan font-style="italic">BCL11A</tspan><tspan font-size="5" dy="-3.2">E</tspan></text>
<rect x="385.05" y="458.15" width="9.40" height="36.85" fill="#f4a742"/>
<rect x="397.55" y="462.46" width="9.40" height="32.54" fill="#f4a742"/>
<rect x="409.05" y="462.66" width="9.40" height="32.34" fill="#f4a742"/>
<rect x="420.30" y="463.15" width="9.40" height="31.85" fill="#f4a742"/>
<rect x="431.90" y="446.88" width="9.40" height="48.12" fill="#f4a742"/>
<rect x="453.00" y="453.15" width="9.40" height="41.85" fill="#d84a3f"/>
<rect x="464.80" y="462.46" width="9.40" height="32.54" fill="#d84a3f"/>
<rect x="476.15" y="462.46" width="9.40" height="32.54" fill="#d84a3f"/>
<rect x="487.70" y="463.74" width="9.40" height="31.26" fill="#d84a3f"/>
<rect x="498.90" y="481.87" width="9.40" height="13.13" fill="#d84a3f"/>
<line x1="389.75" y1="452.29" x2="389.75" y2="458.28" stroke="#2a2a2a" stroke-width="0.6"/>
<line x1="402.25" y1="455.54" x2="402.25" y2="464.77" stroke="#2a2a2a" stroke-width="0.6"/>
<line x1="413.75" y1="455.14" x2="413.75" y2="464.96" stroke="#2a2a2a" stroke-width="0.6"/>
<line x1="425.00" y1="456.58" x2="425.00" y2="462.92" stroke="#2a2a2a" stroke-width="0.6"/>
<line x1="436.60" y1="438.41" x2="436.60" y2="453.28" stroke="#2a2a2a" stroke-width="0.6"/>
<line x1="457.70" y1="449.68" x2="457.70" y2="455.11" stroke="#2a2a2a" stroke-width="0.6"/>
<line x1="469.50" y1="453.70" x2="469.50" y2="468.82" stroke="#2a2a2a" stroke-width="0.6"/>
<line x1="480.85" y1="457.05" x2="480.85" y2="467.37" stroke="#2a2a2a" stroke-width="0.6"/>
<line x1="492.40" y1="455.53" x2="492.40" y2="469.81" stroke="#2a2a2a" stroke-width="0.6"/>
<line x1="503.60" y1="479.25" x2="503.60" y2="486.71" stroke="#2a2a2a" stroke-width="0.6"/>
<rect x="387.74" y="449.63" width="3.32" height="3.32" fill="#fff" stroke="#2a2a2a" stroke-width="0.6"/>
<circle cx="389.40" cy="454.82" r="1.75" fill="#fff" stroke="#2a2a2a" stroke-width="0.6"/>
<polygon points="386.25,456.23 388.08,459.50 384.42,459.50" fill="#fff" stroke="#2a2a2a" stroke-width="0.6"/>
<circle cx="393.10" cy="456.88" r="1.75" fill="#fff" stroke="#2a2a2a" stroke-width="0.6"/>
<circle cx="401.90" cy="450.61" r="1.75" fill="#fff" stroke="#2a2a2a" stroke-width="0.6"/>
<circle cx="398.75" cy="455.80" r="1.75" fill="#fff" stroke="#2a2a2a" stroke-width="0.6"/>
<circle cx="402.75" cy="454.33" r="1.75" fill="#fff" stroke="#2a2a2a" stroke-width="0.6"/>
<circle cx="405.25" cy="457.27" r="1.75" fill="#fff" stroke="#2a2a2a" stroke-width="0.6"/>
<circle cx="397.50" cy="460.01" r="1.75" fill="#fff" stroke="#2a2a2a" stroke-width="0.6"/>
<rect x="400.24" y="459.04" width="3.32" height="3.32" fill="#fff" stroke="#2a2a2a" stroke-width="0.6"/>
<circle cx="405.60" cy="461.39" r="1.75" fill="#fff" stroke="#2a2a2a" stroke-width="0.6"/>
<circle cx="398.75" cy="465.01" r="1.75" fill="#fff" stroke="#2a2a2a" stroke-width="0.6"/>
<circle cx="402.25" cy="465.01" r="1.75" fill="#fff" stroke="#2a2a2a" stroke-width="0.6"/>
<polygon points="400.00,466.22 401.83,469.50 398.17,469.50" fill="#fff" stroke="#2a2a2a" stroke-width="0.6"/>
<circle cx="402.02" cy="459.70" r="1.75" fill="#fff" stroke="#2a2a2a" stroke-width="0.6"/>
<circle cx="405.38" cy="462.40" r="1.75" fill="#fff" stroke="#2a2a2a" stroke-width="0.6"/>
<circle cx="405.30" cy="459.31" r="1.75" fill="#fff" stroke="#2a2a2a" stroke-width="0.6"/>
<rect x="404.20" y="460.87" width="3.32" height="3.32" fill="#fff" stroke="#2a2a2a" stroke-width="0.6"/>
<circle cx="413.15" cy="450.61" r="1.75" fill="#fff" stroke="#2a2a2a" stroke-width="0.6"/>
<circle cx="411.85" cy="454.33" r="1.75" fill="#fff" stroke="#2a2a2a" stroke-width="0.6"/>
<circle cx="415.00" cy="458.15" r="1.75" fill="#fff" stroke="#2a2a2a" stroke-width="0.6"/>
<circle cx="410.00" cy="460.01" r="1.75" fill="#fff" stroke="#2a2a2a" stroke-width="0.6"/>
<rect x="410.19" y="460.80" width="3.32" height="3.32" fill="#fff" stroke="#2a2a2a" stroke-width="0.6"/>
<circle cx="416.75" cy="461.19" r="1.75" fill="#fff" stroke="#2a2a2a" stroke-width="0.6"/>
<circle cx="411.25" cy="465.01" r="1.75" fill="#fff" stroke="#2a2a2a" stroke-width="0.6"/>
<polygon points="411.25,465.63 413.08,468.91 409.42,468.91" fill="#fff" stroke="#2a2a2a" stroke-width="0.6"/>
<circle cx="412.86" cy="462.66" r="1.75" fill="#fff" stroke="#2a2a2a" stroke-width="0.6"/>
<circle cx="411.44" cy="456.25" r="1.75" fill="#fff" stroke="#2a2a2a" stroke-width="0.6"/>
<circle cx="414.57" cy="457.44" r="1.75" fill="#fff" stroke="#2a2a2a" stroke-width="0.6"/>
<rect x="415.26" y="463.23" width="3.32" height="3.32" fill="#fff" stroke="#2a2a2a" stroke-width="0.6"/>
<circle cx="424.40" cy="453.15" r="1.75" fill="#fff" stroke="#2a2a2a" stroke-width="0.6"/>
<circle cx="421.25" cy="457.56" r="1.75" fill="#fff" stroke="#2a2a2a" stroke-width="0.6"/>
<circle cx="427.50" cy="457.56" r="1.75" fill="#fff" stroke="#2a2a2a" stroke-width="0.6"/>
<circle cx="423.10" cy="460.21" r="1.75" fill="#fff" stroke="#2a2a2a" stroke-width="0.6"/>
<circle cx="426.90" cy="461.29" r="1.75" fill="#fff" stroke="#2a2a2a" stroke-width="0.6"/>
<circle cx="421.90" cy="462.66" r="1.75" fill="#fff" stroke="#2a2a2a" stroke-width="0.6"/>
<circle cx="425.00" cy="465.01" r="1.75" fill="#fff" stroke="#2a2a2a" stroke-width="0.6"/>
<circle cx="424.48" cy="462.00" r="1.75" fill="#fff" stroke="#2a2a2a" stroke-width="0.6"/>
<circle cx="424.69" cy="460.61" r="1.75" fill="#fff" stroke="#2a2a2a" stroke-width="0.6"/>
<rect x="426.33" y="457.31" width="3.32" height="3.32" fill="#fff" stroke="#2a2a2a" stroke-width="0.6"/>
<rect x="426.15" y="456.58" width="3.32" height="3.32" fill="#fff" stroke="#2a2a2a" stroke-width="0.6"/>
<circle cx="433.75" cy="435.02" r="1.75" fill="#fff" stroke="#2a2a2a" stroke-width="0.6"/>
<circle cx="440.00" cy="436.20" r="1.75" fill="#fff" stroke="#2a2a2a" stroke-width="0.6"/>
<rect x="430.84" y="436.50" width="3.32" height="3.32" fill="#fff" stroke="#2a2a2a" stroke-width="0.6"/>
<rect x="432.09" y="439.63" width="3.32" height="3.32" fill="#fff" stroke="#2a2a2a" stroke-width="0.6"/>
<rect x="432.09" y="443.36" width="3.32" height="3.32" fill="#fff" stroke="#2a2a2a" stroke-width="0.6"/>
<rect x="436.44" y="443.36" width="3.32" height="3.32" fill="#fff" stroke="#2a2a2a" stroke-width="0.6"/>
<rect x="438.34" y="443.36" width="3.32" height="3.32" fill="#fff" stroke="#2a2a2a" stroke-width="0.6"/>
<polygon points="436.25,449.95 438.08,453.23 434.42,453.23" fill="#fff" stroke="#2a2a2a" stroke-width="0.6"/>
<polygon points="435.00,453.09 436.83,456.36 433.17,456.36" fill="#fff" stroke="#2a2a2a" stroke-width="0.6"/>
<polygon points="436.25,459.95 438.08,463.22 434.42,463.22" fill="#fff" stroke="#2a2a2a" stroke-width="0.6"/>
<rect x="431.34" y="448.97" width="3.32" height="3.32" fill="#fff" stroke="#2a2a2a" stroke-width="0.6"/>
<rect x="434.95" y="448.07" width="3.32" height="3.32" fill="#fff" stroke="#2a2a2a" stroke-width="0.6"/>
<circle cx="438.05" cy="442.95" r="1.75" fill="#fff" stroke="#2a2a2a" stroke-width="0.6"/>
<circle cx="437.48" cy="444.01" r="1.75" fill="#fff" stroke="#2a2a2a" stroke-width="0.6"/>
<rect x="451.94" y="448.36" width="3.32" height="3.32" fill="#fff" stroke="#2a2a2a" stroke-width="0.6"/>
<circle cx="457.35" cy="451.39" r="1.75" fill="#fff" stroke="#2a2a2a" stroke-width="0.6"/>
<rect x="459.44" y="450.22" width="3.32" height="3.32" fill="#fff" stroke="#2a2a2a" stroke-width="0.6"/>
<circle cx="458.00" cy="456.29" r="1.75" fill="#fff" stroke="#2a2a2a" stroke-width="0.6"/>
<circle cx="467.40" cy="450.61" r="1.75" fill="#fff" stroke="#2a2a2a" stroke-width="0.6"/>
<rect x="469.49" y="450.22" width="3.32" height="3.32" fill="#fff" stroke="#2a2a2a" stroke-width="0.6"/>
<circle cx="468.00" cy="454.33" r="1.75" fill="#fff" stroke="#2a2a2a" stroke-width="0.6"/>
<circle cx="473.00" cy="455.60" r="1.75" fill="#fff" stroke="#2a2a2a" stroke-width="0.6"/>
<circle cx="466.10" cy="460.60" r="1.75" fill="#fff" stroke="#2a2a2a" stroke-width="0.6"/>
<circle cx="470.50" cy="459.43" r="1.75" fill="#fff" stroke="#2a2a2a" stroke-width="0.6"/>
<rect x="471.34" y="459.63" width="3.32" height="3.32" fill="#fff" stroke="#2a2a2a" stroke-width="0.6"/>
<circle cx="466.75" cy="465.01" r="1.75" fill="#fff" stroke="#2a2a2a" stroke-width="0.6"/>
<circle cx="469.90" cy="466.58" r="1.75" fill="#fff" stroke="#2a2a2a" stroke-width="0.6"/>
<circle cx="468.60" cy="471.28" r="1.75" fill="#fff" stroke="#2a2a2a" stroke-width="0.6"/>
<circle cx="468.60" cy="476.28" r="1.75" fill="#fff" stroke="#2a2a2a" stroke-width="0.6"/>
<circle cx="469.48" cy="454.49" r="1.75" fill="#fff" stroke="#2a2a2a" stroke-width="0.6"/>
<circle cx="471.67" cy="465.35" r="1.75" fill="#fff" stroke="#2a2a2a" stroke-width="0.6"/>
<circle cx="471.11" cy="456.92" r="1.75" fill="#fff" stroke="#2a2a2a" stroke-width="0.6"/>
<circle cx="465.94" cy="469.30" r="1.75" fill="#fff" stroke="#2a2a2a" stroke-width="0.6"/>
<rect x="476.94" y="455.22" width="3.32" height="3.32" fill="#fff" stroke="#2a2a2a" stroke-width="0.6"/>
<circle cx="482.35" cy="456.29" r="1.75" fill="#fff" stroke="#2a2a2a" stroke-width="0.6"/>
<rect x="483.19" y="455.22" width="3.32" height="3.32" fill="#fff" stroke="#2a2a2a" stroke-width="0.6"/>
<circle cx="479.85" cy="461.29" r="1.75" fill="#fff" stroke="#2a2a2a" stroke-width="0.6"/>
<circle cx="481.10" cy="465.01" r="1.75" fill="#fff" stroke="#2a2a2a" stroke-width="0.6"/>
<circle cx="479.85" cy="468.74" r="1.75" fill="#fff" stroke="#2a2a2a" stroke-width="0.6"/>
<circle cx="481.75" cy="471.87" r="1.75" fill="#fff" stroke="#2a2a2a" stroke-width="0.6"/>
<circle cx="482.20" cy="464.46" r="1.75" fill="#fff" stroke="#2a2a2a" stroke-width="0.6"/>
<circle cx="481.07" cy="458.59" r="1.75" fill="#fff" stroke="#2a2a2a" stroke-width="0.6"/>
<rect x="479.52" y="462.87" width="3.32" height="3.32" fill="#fff" stroke="#2a2a2a" stroke-width="0.6"/>
<circle cx="477.59" cy="459.77" r="1.75" fill="#fff" stroke="#2a2a2a" stroke-width="0.6"/>
<rect x="487.59" y="450.81" width="3.32" height="3.32" fill="#fff" stroke="#2a2a2a" stroke-width="0.6"/>
<rect x="494.44" y="452.77" width="3.32" height="3.32" fill="#fff" stroke="#2a2a2a" stroke-width="0.6"/>
<circle cx="492.40" cy="454.82" r="1.75" fill="#fff" stroke="#2a2a2a" stroke-width="0.6"/>
<rect x="490.09" y="457.08" width="3.32" height="3.32" fill="#fff" stroke="#2a2a2a" stroke-width="0.6"/>
<rect x="493.24" y="460.21" width="3.32" height="3.32" fill="#fff" stroke="#2a2a2a" stroke-width="0.6"/>
<rect x="488.84" y="461.00" width="3.32" height="3.32" fill="#fff" stroke="#2a2a2a" stroke-width="0.6"/>
<circle cx="491.75" cy="468.15" r="1.75" fill="#fff" stroke="#2a2a2a" stroke-width="0.6"/>
<polygon points="493.00,468.77 494.83,472.04 491.17,472.04" fill="#fff" stroke="#2a2a2a" stroke-width="0.6"/>
<circle cx="491.75" cy="477.46" r="1.75" fill="#fff" stroke="#2a2a2a" stroke-width="0.6"/>
<circle cx="489.46" cy="469.23" r="1.75" fill="#fff" stroke="#2a2a2a" stroke-width="0.6"/>
<rect x="492.32" y="460.30" width="3.32" height="3.32" fill="#fff" stroke="#2a2a2a" stroke-width="0.6"/>
<rect x="491.90" y="458.97" width="3.32" height="3.32" fill="#fff" stroke="#2a2a2a" stroke-width="0.6"/>
<circle cx="495.37" cy="461.56" r="1.75" fill="#fff" stroke="#2a2a2a" stroke-width="0.6"/>
<rect x="502.59" y="473.93" width="3.32" height="3.32" fill="#fff" stroke="#2a2a2a" stroke-width="0.6"/>
<circle cx="500.50" cy="480.01" r="1.75" fill="#fff" stroke="#2a2a2a" stroke-width="0.6"/>
<circle cx="506.75" cy="480.01" r="1.75" fill="#fff" stroke="#2a2a2a" stroke-width="0.6"/>
<circle cx="504.25" cy="482.46" r="1.75" fill="#fff" stroke="#2a2a2a" stroke-width="0.6"/>
<rect x="506.34" y="481.38" width="3.32" height="3.32" fill="#fff" stroke="#2a2a2a" stroke-width="0.6"/>
<circle cx="503.60" cy="487.55" r="1.75" fill="#fff" stroke="#2a2a2a" stroke-width="0.6"/>
<circle cx="500.50" cy="486.96" r="1.75" fill="#fff" stroke="#2a2a2a" stroke-width="0.6"/>
<circle cx="503.47" cy="485.92" r="1.75" fill="#fff" stroke="#2a2a2a" stroke-width="0.6"/>
<circle cx="501.56" cy="484.13" r="1.75" fill="#fff" stroke="#2a2a2a" stroke-width="0.6"/>
<rect x="505.18" y="478.80" width="3.32" height="3.32" fill="#fff" stroke="#2a2a2a" stroke-width="0.6"/>
<rect x="505.40" y="484.98" width="3.32" height="3.32" fill="#fff" stroke="#2a2a2a" stroke-width="0.6"/>
<line x1="381.20" y1="395.00" x2="381.20" y2="495.80" stroke="#2a2a2a" stroke-width="1.25"/>
<line x1="378.70" y1="495.00" x2="381.20" y2="495.00" stroke="#2a2a2a" stroke-width="1.0"/>
<text x="375.70" y="497.80" font-size="8.2" text-anchor="end" font-weight="normal" fill="#222" stroke="#222" stroke-width="0.15" letter-spacing="0.2">0</text>
<line x1="378.70" y1="475.40" x2="381.20" y2="475.40" stroke="#2a2a2a" stroke-width="1.0"/>
<text x="375.70" y="478.20" font-size="8.2" text-anchor="end" font-weight="normal" fill="#222" stroke="#222" stroke-width="0.15" letter-spacing="0.2">20</text>
<line x1="378.70" y1="455.80" x2="381.20" y2="455.80" stroke="#2a2a2a" stroke-width="1.0"/>
<text x="375.70" y="458.60" font-size="8.2" text-anchor="end" font-weight="normal" fill="#222" stroke="#222" stroke-width="0.15" letter-spacing="0.2">40</text>
<line x1="378.70" y1="436.20" x2="381.20" y2="436.20" stroke="#2a2a2a" stroke-width="1.0"/>
<text x="375.70" y="439.00" font-size="8.2" text-anchor="end" font-weight="normal" fill="#222" stroke="#222" stroke-width="0.15" letter-spacing="0.2">60</text>
<line x1="378.70" y1="416.60" x2="381.20" y2="416.60" stroke="#2a2a2a" stroke-width="1.0"/>
<text x="375.70" y="419.40" font-size="8.2" text-anchor="end" font-weight="normal" fill="#222" stroke="#222" stroke-width="0.15" letter-spacing="0.2">80</text>
<line x1="378.70" y1="397.00" x2="381.20" y2="397.00" stroke="#2a2a2a" stroke-width="1.0"/>
<text x="375.70" y="399.80" font-size="8.2" text-anchor="end" font-weight="normal" fill="#222" stroke="#222" stroke-width="0.15" letter-spacing="0.2">100</text>
<line x1="380.60" y1="495.50" x2="513.40" y2="495.50" stroke="#2a2a2a" stroke-width="1.25"/>
<line x1="389.75" y1="495.50" x2="389.75" y2="497.90" stroke="#2a2a2a" stroke-width="0.9"/>
<line x1="402.25" y1="495.50" x2="402.25" y2="497.90" stroke="#2a2a2a" stroke-width="0.9"/>
<line x1="413.75" y1="495.50" x2="413.75" y2="497.90" stroke="#2a2a2a" stroke-width="0.9"/>
<line x1="425.00" y1="495.50" x2="425.00" y2="497.90" stroke="#2a2a2a" stroke-width="0.9"/>
<line x1="436.60" y1="495.50" x2="436.60" y2="497.90" stroke="#2a2a2a" stroke-width="0.9"/>
<line x1="457.70" y1="495.50" x2="457.70" y2="497.90" stroke="#2a2a2a" stroke-width="0.9"/>
<line x1="469.50" y1="495.50" x2="469.50" y2="497.90" stroke="#2a2a2a" stroke-width="0.9"/>
<line x1="480.85" y1="495.50" x2="480.85" y2="497.90" stroke="#2a2a2a" stroke-width="0.9"/>
<line x1="492.40" y1="495.50" x2="492.40" y2="497.90" stroke="#2a2a2a" stroke-width="0.9"/>
<line x1="503.60" y1="495.50" x2="503.60" y2="497.90" stroke="#2a2a2a" stroke-width="0.9"/>
<text transform="translate(394.75,507.00) rotate(-45)" font-size="8.1" text-anchor="end" fill="#222" stroke="#222" stroke-width="0.15" letter-spacing="0.1">Expected</text>
<text transform="translate(407.25,507.00) rotate(-45)" font-size="8.1" text-anchor="end" fill="#222" stroke="#222" stroke-width="0.15" letter-spacing="0.1">CD19+</text>
<text transform="translate(418.75,507.00) rotate(-45)" font-size="8.1" text-anchor="end" fill="#222" stroke="#222" stroke-width="0.15" letter-spacing="0.1">CD11b+</text>
<text transform="translate(430.00,507.00) rotate(-45)" font-size="8.1" text-anchor="end" fill="#222" stroke="#222" stroke-width="0.15" letter-spacing="0.1">CD34+</text>
<text transform="translate(441.60,507.00) rotate(-45)" font-size="8.1" text-anchor="end" fill="#222" stroke="#222" stroke-width="0.15" letter-spacing="0.1">CD235+</text>
<text transform="translate(462.70,507.00) rotate(-45)" font-size="8.1" text-anchor="end" fill="#222" stroke="#222" stroke-width="0.15" letter-spacing="0.1">Expected</text>
<text transform="translate(474.50,507.00) rotate(-45)" font-size="8.1" text-anchor="end" fill="#222" stroke="#222" stroke-width="0.15" letter-spacing="0.1">CD19+</text>
<text transform="translate(485.85,507.00) rotate(-45)" font-size="8.1" text-anchor="end" fill="#222" stroke="#222" stroke-width="0.15" letter-spacing="0.1">CD11b+</text>
<text transform="translate(497.40,507.00) rotate(-45)" font-size="8.1" text-anchor="end" fill="#222" stroke="#222" stroke-width="0.15" letter-spacing="0.1">CD34+</text>
<text transform="translate(508.60,507.00) rotate(-45)" font-size="8.1" text-anchor="end" fill="#222" stroke="#222" stroke-width="0.15" letter-spacing="0.1">CD235+</text>
<text transform="translate(353.10,444.50) rotate(-90) scale(0.78,1)" font-size="8.2" text-anchor="middle" fill="#222" stroke="#222" stroke-width="0.35" dominant-baseline="central">% Indel</text>
<text x="446.00" y="387.20" font-size="9.2" text-anchor="middle" font-weight="normal" fill="#222" stroke="#222" stroke-width="0.12" letter-spacing="0.15"><tspan font-style="italic">HBG</tspan><tspan font-size="6.3" dy="-2.8">P</tspan><tspan dy="2.8"><tspan font-style="italic">+BCL11A</tspan></tspan><tspan font-size="6.3" dy="-2.8">E</tspan></text>
<line x1="397.00" y1="414.50" x2="427.50" y2="414.50" stroke="#555" stroke-width="1.0"/>
<polyline points="410.5,414.5 410.5,399.25 437.5,399.25 437.5,403.75" fill="none" stroke="#444" stroke-width="1.0"/>
<text x="424.50" y="398.00" font-size="7" text-anchor="middle" font-weight="normal" fill="#3a3a3a" stroke="#3a3a3a" stroke-width="0.2" >****</text>
<line x1="465.50" y1="414.70" x2="497.40" y2="414.70" stroke="#555" stroke-width="1.0"/>
<polyline points="481.2,414.7 481.2,399.7 503.6,399.7 503.6,422.8" fill="none" stroke="#444" stroke-width="1.0"/>
<text x="492.70" y="398.00" font-size="7" text-anchor="middle" font-weight="normal" fill="#3a3a3a" stroke="#3a3a3a" stroke-width="0.2" >****</text>
<line x1="385.90" y1="531.50" x2="439.20" y2="531.50" stroke="#555" stroke-width="1.0"/>
<text x="412.50" y="542.00" font-size="7.6" text-anchor="middle" font-weight="normal" fill="#222" stroke="#222" stroke-width="0.15" letter-spacing="0.15">HBG<tspan font-size="5.6" dy="-2.6">P</tspan><tspan dy="2.6"> indels</tspan></text>
<line x1="449.30" y1="531.50" x2="507.90" y2="531.50" stroke="#555" stroke-width="1.0"/>
<text x="481.50" y="542.00" font-size="7.6" text-anchor="middle" font-weight="normal" fill="#222" stroke="#222" stroke-width="0.15" letter-spacing="0.15">BCL11A<tspan font-size="5.6" dy="-2.6">E</tspan><tspan dy="2.6"> indels</tspan></text>
<rect x="0.5" y="0.5" width="519" height="561" fill="none" stroke="#5c5c5c" stroke-width="1"/>
</svg></body></html>
